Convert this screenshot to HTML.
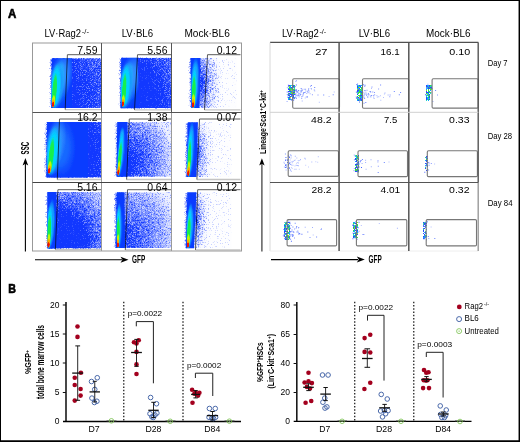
<!DOCTYPE html><html><head><meta charset="utf-8"><title>Figure</title><style>html,body{margin:0;padding:0;background:#fff;width:520px;height:442px;overflow:hidden}svg{display:block;will-change:transform}text{font-family:"Liberation Sans",sans-serif}</style></head><body><svg xmlns="http://www.w3.org/2000/svg" width="520" height="442" viewBox="0 0 520 442" font-family="Liberation Sans, sans-serif"><rect x="0" y="0" width="520" height="442" fill="#fff"/><defs><radialGradient id="hg0"><stop offset="0" stop-color="#0a5aff"/><stop offset="0.68" stop-color="#0a5aff" stop-opacity="0.95"/><stop offset="1" stop-color="#0a5aff" stop-opacity="0"/></radialGradient><radialGradient id="hg1"><stop offset="0" stop-color="#1a98ff"/><stop offset="0.68" stop-color="#1a98ff" stop-opacity="0.95"/><stop offset="1" stop-color="#1a98ff" stop-opacity="0"/></radialGradient><radialGradient id="hg2"><stop offset="0" stop-color="#00d4ff"/><stop offset="0.68" stop-color="#00d4ff" stop-opacity="0.95"/><stop offset="1" stop-color="#00d4ff" stop-opacity="0"/></radialGradient><radialGradient id="hg3"><stop offset="0" stop-color="#18f048"/><stop offset="0.68" stop-color="#18f048" stop-opacity="0.95"/><stop offset="1" stop-color="#18f048" stop-opacity="0"/></radialGradient><radialGradient id="hg4"><stop offset="0" stop-color="#c8f800"/><stop offset="0.68" stop-color="#c8f800" stop-opacity="0.95"/><stop offset="1" stop-color="#c8f800" stop-opacity="0"/></radialGradient><radialGradient id="hg5"><stop offset="0" stop-color="#ffa000"/><stop offset="0.68" stop-color="#ffa000" stop-opacity="0.95"/><stop offset="1" stop-color="#ffa000" stop-opacity="0"/></radialGradient><radialGradient id="hg6"><stop offset="0" stop-color="#f01000"/><stop offset="0.68" stop-color="#f01000" stop-opacity="0.95"/><stop offset="1" stop-color="#f01000" stop-opacity="0"/></radialGradient><radialGradient id="hla"><stop offset="0" stop-color="#3496ff"/><stop offset="0.45" stop-color="#3496ff" stop-opacity="0.85"/><stop offset="1" stop-color="#3496ff" stop-opacity="0"/></radialGradient><radialGradient id="hlb"><stop offset="0" stop-color="#10c4ff"/><stop offset="0.45" stop-color="#10c4ff" stop-opacity="0.85"/><stop offset="1" stop-color="#10c4ff" stop-opacity="0"/></radialGradient><radialGradient id="hlc"><stop offset="0" stop-color="#1a6cff"/><stop offset="0.45" stop-color="#1a6cff" stop-opacity="0.85"/><stop offset="1" stop-color="#1a6cff" stop-opacity="0"/></radialGradient></defs><defs><filter id="blur1" x="-50%" y="-50%" width="200%" height="200%"><feGaussianBlur stdDeviation="0.65"/></filter><filter id="blur05" x="-50%" y="-50%" width="200%" height="200%"><feGaussianBlur stdDeviation="0.5"/></filter><filter id="spk" color-interpolation-filters="sRGB"><feTurbulence type="fractalNoise" baseFrequency="1.5" numOctaves="2" seed="11" result="t"/><feColorMatrix in="t" type="matrix" values="0 0 0 0 0  0 0 0 0 0  0 0 0 0 0  2 0 0 0 -0.5" result="na"/><feComposite in="SourceAlpha" in2="na" operator="arithmetic" k1="0" k2="2" k3="1" k4="-1" result="m"/><feFlood flood-color="#1238ff"/><feComposite in2="m" operator="in"/></filter></defs><text x="7.9" y="18.0" font-size="12.6" textLength="8.3" lengthAdjust="spacingAndGlyphs" font-weight="bold" fill="#000" stroke="#000" stroke-width="0.6">A</text><text x="44.4" y="36.9" font-size="10" textLength="36.6" lengthAdjust="spacingAndGlyphs">LV·Rag2</text><text x="81.8" y="34.0" font-size="6.6" textLength="7.2" lengthAdjust="spacingAndGlyphs">-/-</text><text x="121.7" y="36.9" font-size="10" textLength="31.4" lengthAdjust="spacingAndGlyphs">LV·BL6</text><text x="184.4" y="36.9" font-size="10" textLength="45.4" lengthAdjust="spacingAndGlyphs">Mock·BL6</text><text x="281.9" y="36.9" font-size="10" textLength="36.9" lengthAdjust="spacingAndGlyphs">LV·Rag2</text><text x="319.4" y="34.0" font-size="6.6" textLength="6.9" lengthAdjust="spacingAndGlyphs">-/-</text><text x="358.7" y="36.9" font-size="10" textLength="31.4" lengthAdjust="spacingAndGlyphs">LV·BL6</text><text x="426.0" y="36.9" font-size="10" textLength="44.6" lengthAdjust="spacingAndGlyphs">Mock·BL6</text><defs><radialGradient id="rg1" gradientUnits="userSpaceOnUse" cx="0" cy="0" r="1" gradientTransform="translate(54.0 101) scale(62 75)"><stop offset="0" stop-color="#000" stop-opacity="0.973"/><stop offset="0.5" stop-color="#000" stop-opacity="0.795"/><stop offset="0.75" stop-color="#000" stop-opacity="0.667"/><stop offset="1" stop-color="#000" stop-opacity="0.563"/></radialGradient><clipPath id="cp1"><rect x="32.0" y="43" width="69.5" height="69.5"/></clipPath></defs><defs><radialGradient id="rt1" gradientUnits="userSpaceOnUse" cx="0" cy="0" r="1" gradientTransform="translate(54.0 101) scale(62 75)"><stop offset="0" stop-color="#3a5cff" stop-opacity="0.0"/><stop offset="0.5" stop-color="#3a5cff" stop-opacity="0.057"/><stop offset="0.75" stop-color="#3a5cff" stop-opacity="0.192"/><stop offset="1" stop-color="#3a5cff" stop-opacity="0.283"/></radialGradient></defs><g clip-path="url(#cp1)"><polygon points="52.1,58.2 102.0,58.2 102.0,108.1 51.5,108.1" fill="url(#rt1)"/><g filter="url(#spk)"><polygon points="52.1,58.2 102.0,58.2 102.0,108.1 51.5,108.1" fill="url(#rg1)"/></g></g><defs><linearGradient id="fg1" gradientUnits="userSpaceOnUse" x1="48.2" y1="0" x2="51.7" y2="0"><stop offset="0" stop-opacity="0"/><stop offset="1" stop-opacity="0.525"/></linearGradient></defs><g filter="url(#spk)"><polygon points="48.8,59.2 52.3,58.2 51.7,108.1 48.2,107.1" fill="url(#fg1)"/></g><defs><clipPath id="sc1"><polygon points="51.8,58.2 72.0,58.2 72.0,108.1 51.2,108.1"/></clipPath></defs><polygon points="51.8,58.2 72.0,58.2 72.0,108.1 51.2,108.1" fill="#0a3cff"/><g clip-path="url(#sc1)"><g filter="url(#blur1)"><ellipse cx="0" cy="0" rx="11.60" ry="24.14" fill="url(#hg0)" transform="translate(58.06 85.50) rotate(4.2)"/><ellipse cx="0" cy="0" rx="12" ry="26" fill="url(#hla)" transform="translate(61.00 77.00) rotate(14)"/><ellipse cx="0" cy="0" rx="6.5" ry="24" fill="url(#hlb)" transform="translate(58.00 83.00) rotate(8)"/><ellipse cx="0" cy="0" rx="7.54" ry="23.68" fill="url(#hg1)" transform="translate(56.61 85.91) rotate(4.2)"/><ellipse cx="0" cy="0" rx="5.45" ry="22.99" fill="url(#hg2)" transform="translate(55.83 86.53) rotate(4.2)"/><ellipse cx="0" cy="0" rx="2.55" ry="18.39" fill="url(#hg3)" transform="translate(54.52 90.62) rotate(4.2)"/><ellipse cx="0" cy="0" rx="1.86" ry="6.65" fill="url(#hg4)" transform="translate(53.51 101.08) rotate(4.2)"/><ellipse cx="0" cy="0" rx="1.51" ry="4.34" fill="url(#hg5)" transform="translate(53.24 103.13) rotate(4.2)"/><ellipse cx="0" cy="0" rx="1.28" ry="2.96" fill="url(#hg6)" transform="translate(53.07 104.36) rotate(4.2)"/></g></g><defs><radialGradient id="rg2" gradientUnits="userSpaceOnUse" cx="0" cy="0" r="1" gradientTransform="translate(123.5 103) scale(58 70)"><stop offset="0" stop-color="#000" stop-opacity="0.973"/><stop offset="0.6" stop-color="#000" stop-opacity="0.874"/><stop offset="0.8" stop-color="#000" stop-opacity="0.697"/><stop offset="1" stop-color="#000" stop-opacity="0.579"/></radialGradient><clipPath id="cp2"><rect x="101.5" y="43" width="69.5" height="69.5"/></clipPath></defs><defs><radialGradient id="rt2" gradientUnits="userSpaceOnUse" cx="0" cy="0" r="1" gradientTransform="translate(123.5 103) scale(58 70)"><stop offset="0" stop-color="#3a5cff" stop-opacity="0.0"/><stop offset="0.6" stop-color="#3a5cff" stop-opacity="0.024"/><stop offset="0.8" stop-color="#3a5cff" stop-opacity="0.153"/><stop offset="1" stop-color="#3a5cff" stop-opacity="0.273"/></radialGradient></defs><g clip-path="url(#cp2)"><polygon points="121.5,57.7 171.5,57.7 171.5,108.2 120.8,108.2" fill="url(#rt2)"/><g filter="url(#spk)"><polygon points="121.5,57.7 171.5,57.7 171.5,108.2 120.8,108.2" fill="url(#rg2)"/></g></g><defs><linearGradient id="fg2" gradientUnits="userSpaceOnUse" x1="117.5" y1="0" x2="121.0" y2="0"><stop offset="0" stop-opacity="0"/><stop offset="1" stop-opacity="0.525"/></linearGradient></defs><g filter="url(#spk)"><polygon points="118.2,58.7 121.7,57.7 121.0,108.2 117.5,107.2" fill="url(#fg2)"/></g><defs><clipPath id="sc2"><polygon points="121.2,57.7 137.5,57.7 139.5,108.2 120.5,108.2"/></clipPath></defs><polygon points="121.2,57.7 137.5,57.7 139.5,108.2 120.5,108.2" fill="#0a3cff"/><g clip-path="url(#sc2)"><g filter="url(#blur1)"><ellipse cx="0" cy="0" rx="10.88" ry="23.85" fill="url(#hg0)" transform="translate(127.46 85.25) rotate(3.8)"/><ellipse cx="0" cy="0" rx="11.5" ry="26" fill="url(#hla)" transform="translate(130.50 78.00) rotate(14)"/><ellipse cx="0" cy="0" rx="6" ry="23" fill="url(#hlb)" transform="translate(127.00 83.00) rotate(8)"/><ellipse cx="0" cy="0" rx="7.07" ry="23.40" fill="url(#hg1)" transform="translate(126.10 85.66) rotate(3.8)"/><ellipse cx="0" cy="0" rx="5.11" ry="22.71" fill="url(#hg2)" transform="translate(125.37 86.26) rotate(3.8)"/><ellipse cx="0" cy="0" rx="2.39" ry="18.17" fill="url(#hg3)" transform="translate(124.15 90.31) rotate(3.8)"/><ellipse cx="0" cy="0" rx="1.74" ry="6.58" fill="url(#hg4)" transform="translate(123.23 100.64) rotate(3.8)"/><ellipse cx="0" cy="0" rx="1.41" ry="4.30" fill="url(#hg5)" transform="translate(122.98 102.66) rotate(3.8)"/><ellipse cx="0" cy="0" rx="1.20" ry="2.94" fill="url(#hg6)" transform="translate(122.83 103.88) rotate(3.8)"/></g></g><defs><radialGradient id="rg3" gradientUnits="userSpaceOnUse" cx="0" cy="0" r="1" gradientTransform="translate(200.5 83) scale(22 55)"><stop offset="0" stop-color="#000" stop-opacity="0.795"/><stop offset="0.15" stop-color="#000" stop-opacity="0.667"/><stop offset="0.3" stop-color="#000" stop-opacity="0.498"/><stop offset="0.5" stop-color="#000" stop-opacity="0.363"/><stop offset="0.75" stop-color="#000" stop-opacity="0.254"/><stop offset="1" stop-color="#000" stop-opacity="0.125"/></radialGradient><clipPath id="cp3"><rect x="171.5" y="43" width="69.5" height="69.5"/></clipPath></defs><defs><radialGradient id="rt3" gradientUnits="userSpaceOnUse" cx="0" cy="0" r="1" gradientTransform="translate(200.5 83) scale(22 55)"><stop offset="0" stop-color="#3a5cff" stop-opacity="0.023"/><stop offset="0.15" stop-color="#3a5cff" stop-opacity="0.077"/><stop offset="0.3" stop-color="#3a5cff" stop-opacity="0.12"/><stop offset="0.5" stop-color="#3a5cff" stop-opacity="0.09"/><stop offset="0.75" stop-color="#3a5cff" stop-opacity="0.043"/><stop offset="1" stop-color="#3a5cff" stop-opacity="0.009"/></radialGradient></defs><g clip-path="url(#cp3)"><polygon points="190.9,58.1 236.5,58.1 236.5,108.1 191.5,108.1" fill="url(#rt3)"/><g filter="url(#spk)"><polygon points="190.9,58.1 236.5,58.1 236.5,108.1 191.5,108.1" fill="url(#rg3)"/></g></g><defs><linearGradient id="fg3" gradientUnits="userSpaceOnUse" x1="187.6" y1="0" x2="191.1" y2="0"><stop offset="0" stop-opacity="0"/><stop offset="1" stop-opacity="0.525"/></linearGradient></defs><g filter="url(#spk)"><polygon points="187.6,59.1 191.1,58.1 191.7,108.1 188.2,107.1" fill="url(#fg3)"/></g><defs><clipPath id="sc3"><polygon points="190.6,58.1 200.6,58.1 199.5,108.1 191.2,108.1"/></clipPath></defs><polygon points="190.6,58.1 200.6,58.1 199.5,108.1 191.2,108.1" fill="#0a3cff"/><g clip-path="url(#sc3)"><g filter="url(#blur05)"><ellipse cx="0" cy="0" rx="5.22" ry="24.37" fill="url(#hg0)" transform="translate(195.03 85.75) rotate(1.9)"/><ellipse cx="0" cy="0" rx="4" ry="18" fill="url(#hlb)" transform="translate(195.00 75.00) rotate(3)"/><ellipse cx="0" cy="0" rx="3.92" ry="23.68" fill="url(#hg1)" transform="translate(194.55 86.37) rotate(1.9)"/><ellipse cx="0" cy="0" rx="2.87" ry="22.05" fill="url(#hg2)" transform="translate(194.13 87.83) rotate(1.9)"/><ellipse cx="0" cy="0" rx="2.19" ry="17.40" fill="url(#hg3)" transform="translate(193.76 91.97) rotate(1.9)"/><ellipse cx="0" cy="0" rx="1.88" ry="7.63" fill="url(#hg4)" transform="translate(193.35 100.69) rotate(1.9)"/><ellipse cx="0" cy="0" rx="1.67" ry="4.84" fill="url(#hg5)" transform="translate(193.20 103.18) rotate(1.9)"/><ellipse cx="0" cy="0" rx="1.46" ry="2.98" fill="url(#hg6)" transform="translate(193.07 104.84) rotate(1.9)"/></g></g><defs><radialGradient id="rg4" gradientUnits="userSpaceOnUse" cx="0" cy="0" r="1" gradientTransform="translate(50.0 157.5) scale(70 75)"><stop offset="0" stop-color="#000" stop-opacity="0.973"/><stop offset="0.6" stop-color="#000" stop-opacity="0.874"/><stop offset="0.85" stop-color="#000" stop-opacity="0.697"/><stop offset="1" stop-color="#000" stop-opacity="0.618"/></radialGradient><clipPath id="cp4"><rect x="32.0" y="112.5" width="69.5" height="69.5"/></clipPath></defs><defs><radialGradient id="rt4" gradientUnits="userSpaceOnUse" cx="0" cy="0" r="1" gradientTransform="translate(50.0 157.5) scale(70 75)"><stop offset="0" stop-color="#3a5cff" stop-opacity="0.0"/><stop offset="0.6" stop-color="#3a5cff" stop-opacity="0.024"/><stop offset="0.85" stop-color="#3a5cff" stop-opacity="0.153"/><stop offset="1" stop-color="#3a5cff" stop-opacity="0.242"/></radialGradient></defs><g clip-path="url(#cp4)"><polygon points="47.4,122.0 102.0,122.0 102.0,177.4 46.6,177.4" fill="url(#rt4)"/><g filter="url(#spk)"><polygon points="47.4,122.0 102.0,122.0 102.0,177.4 46.6,177.4" fill="url(#rg4)"/></g></g><defs><linearGradient id="fg4" gradientUnits="userSpaceOnUse" x1="43.3" y1="0" x2="46.8" y2="0"><stop offset="0" stop-opacity="0"/><stop offset="1" stop-opacity="0.525"/></linearGradient></defs><g filter="url(#spk)"><polygon points="44.1,123.0 47.6,122.0 46.8,177.4 43.3,176.4" fill="url(#fg4)"/></g><defs><clipPath id="sc4"><polygon points="47.1,122.0 88.0,122.0 88.0,177.4 46.3,177.4"/></clipPath></defs><polygon points="47.1,122.0 88.0,122.0 88.0,177.4 46.3,177.4" fill="#0a3cff"/><g clip-path="url(#sc4)"><g filter="url(#blur1)"><ellipse cx="0" cy="0" rx="13.05" ry="25.89" fill="url(#hg0)" transform="translate(55.32 150.50) rotate(5.8)"/><ellipse cx="0" cy="0" rx="14" ry="30" fill="url(#hlc)" transform="translate(62.00 147.50) rotate(0)"/><ellipse cx="0" cy="0" rx="10" ry="26" fill="url(#hla)" transform="translate(56.00 142.50) rotate(8)"/><ellipse cx="0" cy="0" rx="6" ry="24" fill="url(#hlb)" transform="translate(52.50 148.50) rotate(5)"/><ellipse cx="0" cy="0" rx="8.48" ry="25.39" fill="url(#hg1)" transform="translate(53.67 150.94) rotate(5.8)"/><ellipse cx="0" cy="0" rx="6.13" ry="24.65" fill="url(#hg2)" transform="translate(52.78 151.60) rotate(5.8)"/><ellipse cx="0" cy="0" rx="2.87" ry="19.70" fill="url(#hg3)" transform="translate(51.19 156.00) rotate(5.8)"/><ellipse cx="0" cy="0" rx="2.09" ry="7.06" fill="url(#hg4)" transform="translate(49.77 167.22) rotate(5.8)"/><ellipse cx="0" cy="0" rx="1.70" ry="4.59" fill="url(#hg5)" transform="translate(49.41 169.42) rotate(5.8)"/><ellipse cx="0" cy="0" rx="1.44" ry="3.10" fill="url(#hg6)" transform="translate(49.18 170.74) rotate(5.8)"/></g></g><defs><radialGradient id="rg5" gradientUnits="userSpaceOnUse" cx="0" cy="0" r="1" gradientTransform="translate(126.5 162.5) scale(48 58)"><stop offset="0" stop-color="#000" stop-opacity="0.973"/><stop offset="0.2" stop-color="#000" stop-opacity="0.745"/><stop offset="0.45" stop-color="#000" stop-opacity="0.579"/><stop offset="0.7" stop-color="#000" stop-opacity="0.42"/><stop offset="0.9" stop-color="#000" stop-opacity="0.302"/><stop offset="1" stop-color="#000" stop-opacity="0.233"/></radialGradient><clipPath id="cp5"><rect x="101.5" y="112.5" width="69.5" height="69.5"/></clipPath></defs><defs><radialGradient id="rt5" gradientUnits="userSpaceOnUse" cx="0" cy="0" r="1" gradientTransform="translate(126.5 162.5) scale(48 58)"><stop offset="0" stop-color="#3a5cff" stop-opacity="0.0"/><stop offset="0.2" stop-color="#3a5cff" stop-opacity="0.108"/><stop offset="0.45" stop-color="#3a5cff" stop-opacity="0.273"/><stop offset="0.7" stop-color="#3a5cff" stop-opacity="0.273"/><stop offset="0.9" stop-color="#3a5cff" stop-opacity="0.153"/><stop offset="1" stop-color="#3a5cff" stop-opacity="0.088"/></radialGradient></defs><g clip-path="url(#cp5)"><polygon points="117.5,122.0 171.5,122.0 171.5,176.7 116.8,176.7" fill="url(#rt5)"/><g filter="url(#spk)"><polygon points="117.5,122.0 171.5,122.0 171.5,176.7 116.8,176.7" fill="url(#rg5)"/></g></g><defs><linearGradient id="fg5" gradientUnits="userSpaceOnUse" x1="113.5" y1="0" x2="117.0" y2="0"><stop offset="0" stop-opacity="0"/><stop offset="1" stop-opacity="0.525"/></linearGradient></defs><g filter="url(#spk)"><polygon points="114.2,123.0 117.7,122.0 117.0,176.7 113.5,175.7" fill="url(#fg5)"/></g><defs><clipPath id="sc5"><polygon points="117.2,122.0 127.4,122.0 127.4,176.7 116.5,176.7"/></clipPath></defs><polygon points="117.2,122.0 127.4,122.0 127.4,176.7 116.5,176.7" fill="#0a3cff"/><g clip-path="url(#sc5)"><g filter="url(#blur05)"><ellipse cx="0" cy="0" rx="4.35" ry="25.57" fill="url(#hg0)" transform="translate(121.17 152.25) rotate(4.9)"/><ellipse cx="0" cy="0" rx="2.8" ry="11" fill="url(#hlb)" transform="translate(121.80 137.50) rotate(4)"/><ellipse cx="0" cy="0" rx="3.26" ry="24.83" fill="url(#hg1)" transform="translate(120.74 152.90) rotate(4.9)"/><ellipse cx="0" cy="0" rx="2.39" ry="23.12" fill="url(#hg2)" transform="translate(120.30 154.43) rotate(4.9)"/><ellipse cx="0" cy="0" rx="1.83" ry="18.23" fill="url(#hg3)" transform="translate(119.73 158.78) rotate(4.9)"/><ellipse cx="0" cy="0" rx="1.57" ry="7.97" fill="url(#hg4)" transform="translate(118.87 167.91) rotate(4.9)"/><ellipse cx="0" cy="0" rx="1.39" ry="5.03" fill="url(#hg5)" transform="translate(118.58 170.52) rotate(4.9)"/><ellipse cx="0" cy="0" rx="1.22" ry="3.08" fill="url(#hg6)" transform="translate(118.37 172.26) rotate(4.9)"/></g></g><defs><radialGradient id="rg6" gradientUnits="userSpaceOnUse" cx="0" cy="0" r="1" gradientTransform="translate(196.5 152.5) scale(18 52)"><stop offset="0" stop-color="#000" stop-opacity="0.745"/><stop offset="0.15" stop-color="#000" stop-opacity="0.552"/><stop offset="0.35" stop-color="#000" stop-opacity="0.393"/><stop offset="0.6" stop-color="#000" stop-opacity="0.274"/><stop offset="1" stop-color="#000" stop-opacity="0.125"/></radialGradient><clipPath id="cp6"><rect x="171.5" y="112.5" width="69.5" height="69.5"/></clipPath></defs><defs><radialGradient id="rt6" gradientUnits="userSpaceOnUse" cx="0" cy="0" r="1" gradientTransform="translate(196.5 152.5) scale(18 52)"><stop offset="0" stop-color="#3a5cff" stop-opacity="0.043"/><stop offset="0.15" stop-color="#3a5cff" stop-opacity="0.115"/><stop offset="0.35" stop-color="#3a5cff" stop-opacity="0.101"/><stop offset="0.6" stop-color="#3a5cff" stop-opacity="0.051"/><stop offset="1" stop-color="#3a5cff" stop-opacity="0.009"/></radialGradient></defs><g clip-path="url(#cp6)"><polygon points="188.1,122.3 231.5,122.3 231.5,177.1 186.8,177.1" fill="url(#rt6)"/><g filter="url(#spk)"><polygon points="188.1,122.3 231.5,122.3 231.5,177.1 186.8,177.1" fill="url(#rg6)"/></g></g><defs><linearGradient id="fg6" gradientUnits="userSpaceOnUse" x1="183.5" y1="0" x2="187.0" y2="0"><stop offset="0" stop-opacity="0"/><stop offset="1" stop-opacity="0.525"/></linearGradient></defs><g filter="url(#spk)"><polygon points="184.8,123.3 188.3,122.3 187.0,177.1 183.5,176.1" fill="url(#fg6)"/></g><defs><clipPath id="sc6"><polygon points="187.8,122.3 197.9,122.3 196.4,177.1 186.5,177.1"/></clipPath></defs><polygon points="187.8,122.3 197.9,122.3 196.4,177.1 186.5,177.1" fill="#0a3cff"/><g clip-path="url(#sc6)"><g filter="url(#blur05)"><ellipse cx="0" cy="0" rx="4.64" ry="27.20" fill="url(#hg0)" transform="translate(190.67 151.75) rotate(3.1)"/><ellipse cx="0" cy="0" rx="3.2" ry="22" fill="url(#hlb)" transform="translate(191.00 142.50) rotate(3)"/><ellipse cx="0" cy="0" rx="3.48" ry="26.42" fill="url(#hg1)" transform="translate(190.23 152.45) rotate(3.1)"/><ellipse cx="0" cy="0" rx="2.55" ry="24.59" fill="url(#hg2)" transform="translate(189.82 154.07) rotate(3.1)"/><ellipse cx="0" cy="0" rx="1.95" ry="19.37" fill="url(#hg3)" transform="translate(189.36 158.72) rotate(3.1)"/><ellipse cx="0" cy="0" rx="1.67" ry="8.42" fill="url(#hg4)" transform="translate(188.73 168.49) rotate(3.1)"/><ellipse cx="0" cy="0" rx="1.48" ry="5.29" fill="url(#hg5)" transform="translate(188.52 171.28) rotate(3.1)"/><ellipse cx="0" cy="0" rx="1.30" ry="3.21" fill="url(#hg6)" transform="translate(188.35 173.14) rotate(3.1)"/></g></g><defs><radialGradient id="rg7" gradientUnits="userSpaceOnUse" cx="0" cy="0" r="1" gradientTransform="translate(58.0 244) scale(58 66)"><stop offset="0" stop-color="#000" stop-opacity="0.973"/><stop offset="0.45" stop-color="#000" stop-opacity="0.874"/><stop offset="0.65" stop-color="#000" stop-opacity="0.618"/><stop offset="0.85" stop-color="#000" stop-opacity="0.446"/><stop offset="1" stop-color="#000" stop-opacity="0.345"/></radialGradient><clipPath id="cp7"><rect x="32.0" y="182" width="69.5" height="69.5"/></clipPath></defs><defs><radialGradient id="rt7" gradientUnits="userSpaceOnUse" cx="0" cy="0" r="1" gradientTransform="translate(58.0 244) scale(58 66)"><stop offset="0" stop-color="#3a5cff" stop-opacity="0.0"/><stop offset="0.45" stop-color="#3a5cff" stop-opacity="0.024"/><stop offset="0.65" stop-color="#3a5cff" stop-opacity="0.242"/><stop offset="0.85" stop-color="#3a5cff" stop-opacity="0.288"/><stop offset="1" stop-color="#3a5cff" stop-opacity="0.206"/></radialGradient></defs><g clip-path="url(#cp7)"><polygon points="47.6,192.0 102.0,192.0 102.0,248.6 47.6,248.6" fill="url(#rt7)"/><g filter="url(#spk)"><polygon points="47.6,192.0 102.0,192.0 102.0,248.6 47.6,248.6" fill="url(#rg7)"/></g></g><defs><linearGradient id="fg7" gradientUnits="userSpaceOnUse" x1="44.3" y1="0" x2="47.8" y2="0"><stop offset="0" stop-opacity="0"/><stop offset="1" stop-opacity="0.525"/></linearGradient></defs><g filter="url(#spk)"><polygon points="44.3,193.0 47.8,192.0 47.8,248.6 44.3,247.6" fill="url(#fg7)"/></g><defs><clipPath id="sc7"><polygon points="47.3,192.0 56.4,192.0 56.4,248.6 47.3,248.6"/></clipPath></defs><polygon points="47.3,192.0 56.4,192.0 56.4,248.6 47.3,248.6" fill="#0a3cff"/><g clip-path="url(#sc7)"><g filter="url(#blur05)"><ellipse cx="0" cy="0" rx="5.22" ry="24.94" fill="url(#hg0)" transform="translate(50.53 225.25) rotate(2.2)"/><ellipse cx="0" cy="0" rx="3.5" ry="24" fill="url(#hlb)" transform="translate(51.50 222.00) rotate(2)"/><ellipse cx="0" cy="0" rx="3.92" ry="24.22" fill="url(#hg1)" transform="translate(50.05 225.89) rotate(2.2)"/><ellipse cx="0" cy="0" rx="2.87" ry="22.56" fill="url(#hg2)" transform="translate(49.62 227.38) rotate(2.2)"/><ellipse cx="0" cy="0" rx="2.19" ry="17.79" fill="url(#hg3)" transform="translate(49.23 231.62) rotate(2.2)"/><ellipse cx="0" cy="0" rx="1.88" ry="7.79" fill="url(#hg4)" transform="translate(48.78 240.55) rotate(2.2)"/><ellipse cx="0" cy="0" rx="1.67" ry="4.93" fill="url(#hg5)" transform="translate(48.61 243.10) rotate(2.2)"/><ellipse cx="0" cy="0" rx="1.46" ry="3.03" fill="url(#hg6)" transform="translate(48.48 244.80) rotate(2.2)"/></g></g><defs><radialGradient id="rg8" gradientUnits="userSpaceOnUse" cx="0" cy="0" r="1" gradientTransform="translate(123.5 238) scale(55 65)"><stop offset="0" stop-color="#000" stop-opacity="0.795"/><stop offset="0.2" stop-color="#000" stop-opacity="0.667"/><stop offset="0.45" stop-color="#000" stop-opacity="0.498"/><stop offset="0.75" stop-color="#000" stop-opacity="0.363"/><stop offset="1" stop-color="#000" stop-opacity="0.233"/></radialGradient><clipPath id="cp8"><rect x="101.5" y="182" width="69.5" height="69.5"/></clipPath></defs><defs><radialGradient id="rt8" gradientUnits="userSpaceOnUse" cx="0" cy="0" r="1" gradientTransform="translate(123.5 238) scale(55 65)"><stop offset="0" stop-color="#3a5cff" stop-opacity="0.057"/><stop offset="0.2" stop-color="#3a5cff" stop-opacity="0.192"/><stop offset="0.45" stop-color="#3a5cff" stop-opacity="0.3"/><stop offset="0.75" stop-color="#3a5cff" stop-opacity="0.225"/><stop offset="1" stop-color="#3a5cff" stop-opacity="0.088"/></radialGradient></defs><g clip-path="url(#cp8)"><polygon points="117.1,192.3 171.5,192.3 171.5,247.9 115.8,247.9" fill="url(#rt8)"/><g filter="url(#spk)"><polygon points="117.1,192.3 171.5,192.3 171.5,247.9 115.8,247.9" fill="url(#rg8)"/></g></g><defs><linearGradient id="fg8" gradientUnits="userSpaceOnUse" x1="112.5" y1="0" x2="116.0" y2="0"><stop offset="0" stop-opacity="0"/><stop offset="1" stop-opacity="0.525"/></linearGradient></defs><g filter="url(#spk)"><polygon points="113.8,193.3 117.3,192.3 116.0,247.9 112.5,246.9" fill="url(#fg8)"/></g><defs><clipPath id="sc8"><polygon points="116.8,192.3 124.5,192.3 124.9,247.9 115.5,247.9"/></clipPath></defs><polygon points="116.8,192.3 124.5,192.3 124.9,247.9 115.5,247.9" fill="#0a3cff"/><g clip-path="url(#sc8)"><g filter="url(#blur05)"><ellipse cx="0" cy="0" rx="4.06" ry="23.80" fill="url(#hg0)" transform="translate(119.17 226.25) rotate(0.7)"/><ellipse cx="0" cy="0" rx="2.5" ry="22" fill="url(#hlb)" transform="translate(119.00 224.00) rotate(1)"/><ellipse cx="0" cy="0" rx="3.04" ry="23.12" fill="url(#hg1)" transform="translate(118.81 226.86) rotate(0.7)"/><ellipse cx="0" cy="0" rx="2.23" ry="21.53" fill="url(#hg2)" transform="translate(118.51 228.28) rotate(0.7)"/><ellipse cx="0" cy="0" rx="1.71" ry="17.00" fill="url(#hg3)" transform="translate(118.27 232.32) rotate(0.7)"/><ellipse cx="0" cy="0" rx="1.46" ry="7.47" fill="url(#hg4)" transform="translate(118.08 240.83) rotate(0.7)"/><ellipse cx="0" cy="0" rx="1.30" ry="4.75" fill="url(#hg5)" transform="translate(117.99 243.26) rotate(0.7)"/><ellipse cx="0" cy="0" rx="1.14" ry="2.93" fill="url(#hg6)" transform="translate(117.92 244.88) rotate(0.7)"/></g></g><defs><radialGradient id="rg9" gradientUnits="userSpaceOnUse" cx="0" cy="0" r="1" gradientTransform="translate(195.5 218) scale(17 52)"><stop offset="0" stop-color="#000" stop-opacity="0.697"/><stop offset="0.15" stop-color="#000" stop-opacity="0.525"/><stop offset="0.35" stop-color="#000" stop-opacity="0.381"/><stop offset="0.6" stop-color="#000" stop-opacity="0.254"/><stop offset="1" stop-color="#000" stop-opacity="0.125"/></radialGradient><clipPath id="cp9"><rect x="171.5" y="182" width="69.5" height="69.5"/></clipPath></defs><defs><radialGradient id="rt9" gradientUnits="userSpaceOnUse" cx="0" cy="0" r="1" gradientTransform="translate(195.5 218) scale(17 52)"><stop offset="0" stop-color="#3a5cff" stop-opacity="0.061"/><stop offset="0.15" stop-color="#3a5cff" stop-opacity="0.119"/><stop offset="0.35" stop-color="#3a5cff" stop-opacity="0.097"/><stop offset="0.6" stop-color="#3a5cff" stop-opacity="0.043"/><stop offset="1" stop-color="#3a5cff" stop-opacity="0.009"/></radialGradient></defs><g clip-path="url(#cp9)"><polygon points="187.6,192.3 231.5,192.3 231.5,248.3 186.1,248.3" fill="url(#rt9)"/><g filter="url(#spk)"><polygon points="187.6,192.3 231.5,192.3 231.5,248.3 186.1,248.3" fill="url(#rg9)"/></g></g><defs><linearGradient id="fg9" gradientUnits="userSpaceOnUse" x1="182.8" y1="0" x2="186.3" y2="0"><stop offset="0" stop-opacity="0"/><stop offset="1" stop-opacity="0.525"/></linearGradient></defs><g filter="url(#spk)"><polygon points="184.3,193.3 187.8,192.3 186.3,248.3 182.8,247.3" fill="url(#fg9)"/></g><defs><clipPath id="sc9"><polygon points="187.3,192.3 196.4,192.3 194.0,248.3 185.8,248.3"/></clipPath></defs><polygon points="187.3,192.3 196.4,192.3 194.0,248.3 185.8,248.3" fill="#0a3cff"/><g clip-path="url(#sc9)"><g filter="url(#blur05)"><ellipse cx="0" cy="0" rx="4.64" ry="23.83" fill="url(#hg0)" transform="translate(190.07 226.25) rotate(3.0)"/><ellipse cx="0" cy="0" rx="3" ry="22" fill="url(#hlb)" transform="translate(190.30 224.00) rotate(1)"/><ellipse cx="0" cy="0" rx="3.48" ry="23.15" fill="url(#hg1)" transform="translate(189.64 226.86) rotate(3.0)"/><ellipse cx="0" cy="0" rx="2.55" ry="21.56" fill="url(#hg2)" transform="translate(189.24 228.28) rotate(3.0)"/><ellipse cx="0" cy="0" rx="1.95" ry="17.02" fill="url(#hg3)" transform="translate(188.82 232.32) rotate(3.0)"/><ellipse cx="0" cy="0" rx="1.67" ry="7.48" fill="url(#hg4)" transform="translate(188.28 240.83) rotate(3.0)"/><ellipse cx="0" cy="0" rx="1.48" ry="4.75" fill="url(#hg5)" transform="translate(188.09 243.26) rotate(3.0)"/><ellipse cx="0" cy="0" rx="1.30" ry="2.94" fill="url(#hg6)" transform="translate(187.94 244.88) rotate(3.0)"/></g></g><path d="M65.2 109.6H101.0" fill="none" stroke="#c4c4c4" stroke-width="1.4"/><path d="M101.0 54.7H67.4L65.2 109.6" fill="none" stroke="#5a5a5a" stroke-width="1" style="mix-blend-mode:multiply"/><path d="M134.5 109.9H171.0" fill="none" stroke="#c4c4c4" stroke-width="1.4"/><path d="M171.0 54.7H137.5L134.5 109.9" fill="none" stroke="#5a5a5a" stroke-width="1" style="mix-blend-mode:multiply"/><path d="M204.5 109.9H240.5" fill="none" stroke="#c4c4c4" stroke-width="1.4"/><path d="M240.5 54.7H207.5L204.5 109.9" fill="none" stroke="#5a5a5a" stroke-width="1" style="mix-blend-mode:multiply"/><path d="M57.3 179.5H101.0" fill="none" stroke="#c4c4c4" stroke-width="1.4"/><path d="M101.0 119.0H59.5L57.3 179.5" fill="none" stroke="#5a5a5a" stroke-width="1" style="mix-blend-mode:multiply"/><path d="M126.6 179.5H171.0" fill="none" stroke="#c4c4c4" stroke-width="1.4"/><path d="M171.0 119.0H129.3L126.6 179.5" fill="none" stroke="#5a5a5a" stroke-width="1" style="mix-blend-mode:multiply"/><path d="M196.9 179.5H240.5" fill="none" stroke="#c4c4c4" stroke-width="1.4"/><path d="M240.5 119.0H199.5L196.9 179.5" fill="none" stroke="#5a5a5a" stroke-width="1" style="mix-blend-mode:multiply"/><path d="M55.4 249.5H101.0" fill="none" stroke="#c4c4c4" stroke-width="1.4"/><path d="M101.0 189.7H57.9L55.4 249.5" fill="none" stroke="#5a5a5a" stroke-width="1" style="mix-blend-mode:multiply"/><path d="M125.3 249.9H171.0" fill="none" stroke="#c4c4c4" stroke-width="1.4"/><path d="M171.0 189.7H127.5L125.3 249.9" fill="none" stroke="#5a5a5a" stroke-width="1" style="mix-blend-mode:multiply"/><path d="M195.5 249.9H240.5" fill="none" stroke="#c4c4c4" stroke-width="1.4"/><path d="M240.5 189.7H197.7L195.5 249.9" fill="none" stroke="#5a5a5a" stroke-width="1" style="mix-blend-mode:multiply"/><rect x="32.5" y="43" width="209" height="208" fill="none" stroke="#999" stroke-width="1"/><line x1="101.5" y1="43" x2="101.5" y2="112.5" stroke="#555" stroke-width="1"/><line x1="101.5" y1="112.5" x2="101.5" y2="251" stroke="#9a9a9a" stroke-width="1"/><line x1="171.5" y1="43" x2="171.5" y2="112.5" stroke="#555" stroke-width="1"/><line x1="171.5" y1="112.5" x2="171.5" y2="251" stroke="#9a9a9a" stroke-width="1"/><line x1="32.5" y1="112.5" x2="241.5" y2="112.5" stroke="#555" stroke-width="1"/><line x1="32.5" y1="182.5" x2="241.5" y2="182.5" stroke="#444" stroke-width="1"/><text x="97.5" y="53.5" font-size="10" text-anchor="end" textLength="20.34" lengthAdjust="spacingAndGlyphs" fill="#000">7.59</text><text x="167.5" y="53.5" font-size="10" text-anchor="end" textLength="20.34" lengthAdjust="spacingAndGlyphs" fill="#000">5.56</text><text x="237.0" y="53.5" font-size="10" text-anchor="end" textLength="20.34" lengthAdjust="spacingAndGlyphs" fill="#000">0.12</text><text x="97.5" y="120.8" font-size="10" text-anchor="end" textLength="20.34" lengthAdjust="spacingAndGlyphs" fill="#000">16.2</text><text x="167.5" y="120.8" font-size="10" text-anchor="end" textLength="20.34" lengthAdjust="spacingAndGlyphs" fill="#000">1.38</text><text x="237.0" y="120.8" font-size="10" text-anchor="end" textLength="20.34" lengthAdjust="spacingAndGlyphs" fill="#000">0.07</text><text x="97.5" y="190.6" font-size="10" text-anchor="end" textLength="20.34" lengthAdjust="spacingAndGlyphs" fill="#000">5.16</text><text x="167.5" y="190.6" font-size="10" text-anchor="end" textLength="20.34" lengthAdjust="spacingAndGlyphs" fill="#000">0.64</text><text x="237.0" y="190.6" font-size="10" text-anchor="end" textLength="20.34" lengthAdjust="spacingAndGlyphs" fill="#000">0.12</text><line x1="25.4" y1="251.5" x2="25.4" y2="162" stroke="#000" stroke-width="1.1"/><path d="M25.4 158 L22.6 165.5 L25.4 163.8 L28.2 165.5 Z" fill="#000"/><text x="29.3" y="154.4" font-size="10.5" textLength="12.5" lengthAdjust="spacingAndGlyphs" font-weight="bold" transform="rotate(-90 29.3 154.4)">SSC</text><line x1="35" y1="259.7" x2="122" y2="259.7" stroke="#000" stroke-width="1.1"/><path d="M128.5 259.7 L120.5 256.7 L122.5 259.7 L120.5 262.7 Z" fill="#000"/><text x="132" y="262.8" font-size="10" textLength="13.2" lengthAdjust="spacingAndGlyphs" font-weight="bold">GFP</text><path d="M288.0 85.0h1.0v1.0h-1.0zM289.0 85.0h1.0v1.0h-1.0zM293.0 85.0h1.0v1.0h-1.0zM288.0 86.0h1.0v1.0h-1.0zM293.0 86.0h1.0v1.0h-1.0zM291.0 87.0h1.0v1.0h-1.0zM292.0 87.0h1.0v1.0h-1.0zM288.0 89.0h1.0v1.0h-1.0zM289.0 89.0h1.0v1.0h-1.0zM294.0 90.0h1.0v1.0h-1.0zM288.0 91.0h1.0v1.0h-1.0zM289.0 91.0h1.0v1.0h-1.0zM290.0 91.0h1.0v1.0h-1.0zM293.0 92.0h1.0v1.0h-1.0zM294.0 92.0h1.0v1.0h-1.0zM289.0 93.0h1.0v1.0h-1.0zM290.0 94.0h1.0v1.0h-1.0zM291.0 94.0h1.0v1.0h-1.0zM292.0 94.0h1.0v1.0h-1.0zM294.0 94.0h1.0v1.0h-1.0zM288.0 95.0h1.0v1.0h-1.0zM289.0 95.0h1.0v1.0h-1.0zM291.0 95.0h1.0v1.0h-1.0zM293.0 95.0h1.0v1.0h-1.0zM290.0 96.0h1.0v1.0h-1.0zM293.0 96.0h1.0v1.0h-1.0zM288.0 97.0h1.0v1.0h-1.0zM289.0 97.0h1.0v1.0h-1.0zM293.0 97.0h1.0v1.0h-1.0zM294.0 98.0h1.0v1.0h-1.0zM289.0 99.0h1.0v1.0h-1.0z" fill="#2a48ff"/><path d="M290.0 85.0h1.0v1.0h-1.0zM290.0 86.0h1.0v1.0h-1.0zM294.0 86.0h1.0v1.0h-1.0zM290.0 87.0h1.0v1.0h-1.0zM288.0 88.0h1.0v1.0h-1.0zM292.0 88.0h1.0v1.0h-1.0zM293.0 90.0h1.0v1.0h-1.0zM291.0 91.0h1.0v1.0h-1.0zM290.0 93.0h1.0v1.0h-1.0zM289.0 94.0h1.0v1.0h-1.0zM293.0 94.0h1.0v1.0h-1.0zM292.0 95.0h1.0v1.0h-1.0zM291.0 96.0h1.0v1.0h-1.0zM292.0 97.0h1.0v1.0h-1.0zM288.0 98.0h1.0v1.0h-1.0zM288.0 99.0h1.0v1.0h-1.0zM290.0 99.0h1.0v1.0h-1.0z" fill="#10a8ff"/><path d="M291.0 85.0h1.0v1.0h-1.0zM292.0 85.0h1.0v1.0h-1.0zM293.0 87.0h1.0v1.0h-1.0zM294.0 88.0h1.0v1.0h-1.0zM293.0 91.0h1.0v1.0h-1.0zM290.0 92.0h1.0v1.0h-1.0zM292.0 93.0h1.0v1.0h-1.0zM289.0 96.0h1.0v1.0h-1.0zM294.0 97.0h1.0v1.0h-1.0z" fill="#20d8c0"/><path d="M294.0 85.0h1.0v1.0h-1.0zM292.0 86.0h1.0v1.0h-1.0zM289.0 87.0h1.0v1.0h-1.0zM294.0 87.0h1.0v1.0h-1.0zM289.0 88.0h1.0v1.0h-1.0zM290.0 88.0h1.0v1.0h-1.0zM291.0 88.0h1.0v1.0h-1.0zM290.0 89.0h1.0v1.0h-1.0zM291.0 89.0h1.0v1.0h-1.0zM292.0 89.0h1.0v1.0h-1.0zM293.0 89.0h1.0v1.0h-1.0zM294.0 89.0h1.0v1.0h-1.0zM289.0 90.0h1.0v1.0h-1.0zM290.0 90.0h1.0v1.0h-1.0zM294.0 91.0h1.0v1.0h-1.0zM291.0 92.0h1.0v1.0h-1.0zM288.0 93.0h1.0v1.0h-1.0zM293.0 93.0h1.0v1.0h-1.0zM288.0 94.0h1.0v1.0h-1.0zM289.0 98.0h1.0v1.0h-1.0z" fill="#38e040"/><path d="M289.0 86.0h1.0v1.0h-1.0zM291.0 93.0h1.0v1.0h-1.0zM294.0 93.0h1.0v1.0h-1.0zM291.0 99.0h1.0v1.0h-1.0zM292.0 99.0h1.0v1.0h-1.0z" fill="#90f020"/><path d="M291.0 90.0h1.0v1.0h-1.0zM290.0 97.0h1.0v1.0h-1.0z" fill="#e8e000"/><path d="M290.3 87.5h1.0v1.0h-1.0zM293.1 99.7h1.0v1.0h-1.0zM290.7 90.7h1.0v1.0h-1.0zM294.1 86.6h1.0v1.0h-1.0zM288.1 93.4h1.0v1.0h-1.0zM287.6 97.0h1.0v1.0h-1.0zM291.1 99.2h1.0v1.0h-1.0zM292.2 98.5h1.0v1.0h-1.0zM286.7 91.4h1.0v1.0h-1.0zM292.9 97.5h1.0v1.0h-1.0zM291.9 93.5h1.0v1.0h-1.0zM295.8 84.5h1.0v1.0h-1.0z" fill="#4a68ff"/><path d="M291.4 89.6h1.0v1.0h-1.0zM287.4 95.4h1.0v1.0h-1.0zM294.7 97.0h1.0v1.0h-1.0zM286.8 94.1h1.0v1.0h-1.0zM296.8 95.3h1.0v1.0h-1.0zM289.0 94.1h1.0v1.0h-1.0zM296.1 89.9h1.0v1.0h-1.0z" fill="#7088ff"/><path d="M291.5 95.3h1.0v1.0h-1.0zM295.8 91.3h1.0v1.0h-1.0zM290.0 97.9h1.0v1.0h-1.0zM295.0 86.1h1.0v1.0h-1.0zM286.6 101.0h1.0v1.0h-1.0zM286.8 87.3h1.0v1.0h-1.0zM293.5 98.2h1.0v1.0h-1.0zM290.9 100.0h1.0v1.0h-1.0zM287.9 86.2h1.0v1.0h-1.0zM288.3 92.0h1.0v1.0h-1.0zM287.8 84.6h1.0v1.0h-1.0z" fill="#98a8ff"/><path d="M298.6 93.1h1.0v1.0h-1.0zM310.7 88.0h1.0v1.0h-1.0zM296.6 90.9h1.0v1.0h-1.0zM302.9 92.9h1.0v1.0h-1.0zM296.3 94.9h1.0v1.0h-1.0zM308.3 91.5h1.0v1.0h-1.0zM298.6 93.2h1.0v1.0h-1.0zM298.4 90.2h1.0v1.0h-1.0zM295.8 91.0h1.0v1.0h-1.0zM305.7 96.6h1.0v1.0h-1.0zM298.5 96.6h1.0v1.0h-1.0zM297.7 93.9h1.0v1.0h-1.0zM298.1 92.8h1.0v1.0h-1.0zM296.7 90.9h1.0v1.0h-1.0zM300.5 90.9h1.0v1.0h-1.0zM296.8 91.6h1.0v1.0h-1.0zM309.6 93.3h1.0v1.0h-1.0zM296.0 97.7h1.0v1.0h-1.0zM302.4 88.7h1.0v1.0h-1.0zM301.7 100.5h1.0v1.0h-1.0zM306.8 96.3h1.0v1.0h-1.0zM311.0 88.5h1.0v1.0h-1.0zM295.1 89.3h1.0v1.0h-1.0zM308.6 91.6h1.0v1.0h-1.0zM305.2 90.4h1.0v1.0h-1.0z" fill="#9fb0ff"/><path d="M301.4 89.1h1.0v1.0h-1.0zM302.8 94.1h1.0v1.0h-1.0zM296.7 91.2h1.0v1.0h-1.0zM318.8 101.7h1.0v1.0h-1.0zM295.4 93.0h1.0v1.0h-1.0zM306.1 93.0h1.0v1.0h-1.0zM303.2 92.6h1.0v1.0h-1.0zM298.3 94.3h1.0v1.0h-1.0zM297.5 91.3h1.0v1.0h-1.0zM298.8 95.5h1.0v1.0h-1.0zM295.2 80.9h1.0v1.0h-1.0zM333.7 91.6h1.0v1.0h-1.0zM299.6 95.0h1.0v1.0h-1.0zM300.7 91.8h1.0v1.0h-1.0zM305.0 92.1h1.0v1.0h-1.0zM302.1 95.6h1.0v1.0h-1.0zM304.7 97.6h1.0v1.0h-1.0zM314.3 90.6h1.0v1.0h-1.0zM304.0 88.8h1.0v1.0h-1.0zM297.9 93.6h1.0v1.0h-1.0zM298.2 92.4h1.0v1.0h-1.0zM302.3 94.2h1.0v1.0h-1.0zM300.4 92.0h1.0v1.0h-1.0zM328.6 95.9h1.0v1.0h-1.0zM308.4 90.2h1.0v1.0h-1.0zM302.6 95.2h1.0v1.0h-1.0z" fill="#b4c0ff"/><path d="M308.0 89.6h1.0v1.0h-1.0zM323.2 94.5h1.0v1.0h-1.0zM300.5 90.2h1.0v1.0h-1.0zM332.7 94.3h1.0v1.0h-1.0zM301.2 90.5h1.0v1.0h-1.0zM295.2 95.6h1.0v1.0h-1.0zM300.7 88.1h1.0v1.0h-1.0zM302.9 92.6h1.0v1.0h-1.0zM306.8 96.6h1.0v1.0h-1.0zM301.2 97.8h1.0v1.0h-1.0zM296.9 91.4h1.0v1.0h-1.0zM306.8 90.8h1.0v1.0h-1.0zM310.9 84.9h1.0v1.0h-1.0zM314.2 87.1h1.0v1.0h-1.0zM300.2 93.9h1.0v1.0h-1.0zM297.9 90.0h1.0v1.0h-1.0zM303.8 91.9h1.0v1.0h-1.0zM295.2 94.0h1.0v1.0h-1.0zM295.0 89.8h1.0v1.0h-1.0z" fill="#6a84ff"/><path d="M308.2 88.3h1.0v1.0h-1.0zM295.8 97.7h1.0v1.0h-1.0zM311.9 94.3h1.0v1.0h-1.0zM299.6 93.6h1.0v1.0h-1.0zM301.4 95.9h1.0v1.0h-1.0zM296.0 91.2h1.0v1.0h-1.0zM313.8 89.5h1.0v1.0h-1.0zM301.7 89.9h1.0v1.0h-1.0zM295.2 93.5h1.0v1.0h-1.0zM317.5 94.4h1.0v1.0h-1.0zM295.0 90.3h1.0v1.0h-1.0zM298.1 95.1h1.0v1.0h-1.0zM310.1 85.7h1.0v1.0h-1.0zM295.9 89.1h1.0v1.0h-1.0zM305.1 88.8h1.0v1.0h-1.0zM307.4 92.2h1.0v1.0h-1.0zM295.9 80.2h1.0v1.0h-1.0zM295.9 97.8h1.0v1.0h-1.0z" fill="#8898ff"/><path d="M357.0 85.0h1.0v1.0h-1.0zM358.0 85.0h1.0v1.0h-1.0zM358.0 88.0h1.0v1.0h-1.0zM361.0 89.0h1.0v1.0h-1.0zM362.0 89.0h1.0v1.0h-1.0zM360.0 90.0h1.0v1.0h-1.0zM362.0 90.0h1.0v1.0h-1.0zM357.0 93.0h1.0v1.0h-1.0zM360.0 93.0h1.0v1.0h-1.0zM360.0 94.0h1.0v1.0h-1.0zM359.0 96.0h1.0v1.0h-1.0zM362.0 97.0h1.0v1.0h-1.0zM357.0 98.0h1.0v1.0h-1.0zM361.0 98.0h1.0v1.0h-1.0zM362.0 98.0h1.0v1.0h-1.0zM360.0 100.0h1.0v1.0h-1.0z" fill="#20d8c0"/><path d="M359.0 85.0h1.0v1.0h-1.0zM357.0 86.0h1.0v1.0h-1.0zM360.0 86.0h1.0v1.0h-1.0zM357.0 87.0h1.0v1.0h-1.0zM362.0 87.0h1.0v1.0h-1.0zM359.0 88.0h1.0v1.0h-1.0zM358.0 89.0h1.0v1.0h-1.0zM357.0 90.0h1.0v1.0h-1.0zM358.0 90.0h1.0v1.0h-1.0zM357.0 91.0h1.0v1.0h-1.0zM360.0 91.0h1.0v1.0h-1.0zM362.0 91.0h1.0v1.0h-1.0zM361.0 92.0h1.0v1.0h-1.0zM357.0 94.0h1.0v1.0h-1.0zM362.0 94.0h1.0v1.0h-1.0zM360.0 95.0h1.0v1.0h-1.0zM361.0 95.0h1.0v1.0h-1.0zM358.0 97.0h1.0v1.0h-1.0zM358.0 98.0h1.0v1.0h-1.0zM360.0 98.0h1.0v1.0h-1.0zM360.0 99.0h1.0v1.0h-1.0zM361.0 99.0h1.0v1.0h-1.0zM362.0 99.0h1.0v1.0h-1.0zM358.0 100.0h1.0v1.0h-1.0zM361.0 100.0h1.0v1.0h-1.0z" fill="#2a48ff"/><path d="M360.0 85.0h1.0v1.0h-1.0zM361.0 85.0h1.0v1.0h-1.0zM358.0 86.0h1.0v1.0h-1.0zM359.0 86.0h1.0v1.0h-1.0zM360.0 87.0h1.0v1.0h-1.0zM357.0 88.0h1.0v1.0h-1.0zM359.0 89.0h1.0v1.0h-1.0zM358.0 91.0h1.0v1.0h-1.0zM361.0 91.0h1.0v1.0h-1.0zM362.0 92.0h1.0v1.0h-1.0zM361.0 96.0h1.0v1.0h-1.0zM357.0 97.0h1.0v1.0h-1.0zM360.0 97.0h1.0v1.0h-1.0zM361.0 97.0h1.0v1.0h-1.0zM358.0 99.0h1.0v1.0h-1.0zM359.0 99.0h1.0v1.0h-1.0zM357.0 100.0h1.0v1.0h-1.0z" fill="#10a8ff"/><path d="M362.0 86.0h1.0v1.0h-1.0zM358.0 87.0h1.0v1.0h-1.0zM361.0 87.0h1.0v1.0h-1.0zM361.0 88.0h1.0v1.0h-1.0zM362.0 88.0h1.0v1.0h-1.0zM360.0 89.0h1.0v1.0h-1.0zM359.0 90.0h1.0v1.0h-1.0zM361.0 90.0h1.0v1.0h-1.0zM359.0 91.0h1.0v1.0h-1.0zM357.0 92.0h1.0v1.0h-1.0zM358.0 92.0h1.0v1.0h-1.0zM359.0 92.0h1.0v1.0h-1.0zM360.0 92.0h1.0v1.0h-1.0zM358.0 93.0h1.0v1.0h-1.0zM361.0 93.0h1.0v1.0h-1.0zM361.0 94.0h1.0v1.0h-1.0zM358.0 95.0h1.0v1.0h-1.0zM359.0 95.0h1.0v1.0h-1.0zM362.0 95.0h1.0v1.0h-1.0zM357.0 96.0h1.0v1.0h-1.0zM360.0 96.0h1.0v1.0h-1.0zM359.0 98.0h1.0v1.0h-1.0zM357.0 99.0h1.0v1.0h-1.0zM359.0 100.0h1.0v1.0h-1.0z" fill="#38e040"/><path d="M359.0 87.0h1.0v1.0h-1.0zM359.0 97.0h1.0v1.0h-1.0z" fill="#e8e000"/><path d="M357.0 89.0h1.0v1.0h-1.0zM362.0 100.0h1.0v1.0h-1.0z" fill="#90f020"/><path d="M356.0 84.0h1.0v1.0h-1.0zM357.2 92.3h1.0v1.0h-1.0zM355.8 91.5h1.0v1.0h-1.0zM357.9 98.1h1.0v1.0h-1.0zM358.7 88.8h1.0v1.0h-1.0zM355.9 98.1h1.0v1.0h-1.0zM362.4 95.1h1.0v1.0h-1.0z" fill="#98a8ff"/><path d="M356.8 84.5h1.0v1.0h-1.0zM363.9 97.8h1.0v1.0h-1.0zM364.4 89.9h1.0v1.0h-1.0zM356.3 91.7h1.0v1.0h-1.0zM356.3 97.3h1.0v1.0h-1.0zM359.0 101.4h1.0v1.0h-1.0zM362.8 84.3h1.0v1.0h-1.0zM359.9 99.2h1.0v1.0h-1.0zM358.5 88.9h1.0v1.0h-1.0zM364.5 84.8h1.0v1.0h-1.0z" fill="#4a68ff"/><path d="M361.7 93.7h1.0v1.0h-1.0zM355.8 96.5h1.0v1.0h-1.0zM363.5 102.7h1.0v1.0h-1.0zM357.1 83.6h1.0v1.0h-1.0zM360.8 98.3h1.0v1.0h-1.0zM358.9 99.5h1.0v1.0h-1.0zM358.6 97.9h1.0v1.0h-1.0zM356.5 97.5h1.0v1.0h-1.0z" fill="#7088ff"/><path d="M393.8 90.9h1.0v1.0h-1.0zM370.2 91.4h1.0v1.0h-1.0zM369.6 91.0h1.0v1.0h-1.0zM366.1 94.8h1.0v1.0h-1.0zM398.8 94.2h1.0v1.0h-1.0zM367.0 96.5h1.0v1.0h-1.0zM364.1 85.9h1.0v1.0h-1.0zM380.1 84.4h1.0v1.0h-1.0zM363.3 96.4h1.0v1.0h-1.0zM370.9 95.0h1.0v1.0h-1.0zM368.0 93.2h1.0v1.0h-1.0zM365.3 101.9h1.0v1.0h-1.0zM400.1 91.9h1.0v1.0h-1.0z" fill="#6a84ff"/><path d="M379.9 95.2h1.0v1.0h-1.0zM380.3 99.8h1.0v1.0h-1.0zM372.7 95.1h1.0v1.0h-1.0zM365.2 91.7h1.0v1.0h-1.0zM365.1 93.5h1.0v1.0h-1.0zM383.9 93.4h1.0v1.0h-1.0zM365.5 91.8h1.0v1.0h-1.0zM374.3 94.6h1.0v1.0h-1.0zM373.9 94.0h1.0v1.0h-1.0zM383.0 97.1h1.0v1.0h-1.0zM368.2 96.5h1.0v1.0h-1.0zM376.4 95.0h1.0v1.0h-1.0zM364.2 86.0h1.0v1.0h-1.0zM363.9 93.4h1.0v1.0h-1.0zM373.2 96.7h1.0v1.0h-1.0z" fill="#b4c0ff"/><path d="M389.3 96.2h1.0v1.0h-1.0zM372.3 91.6h1.0v1.0h-1.0zM378.1 88.4h1.0v1.0h-1.0zM366.5 89.7h1.0v1.0h-1.0zM389.6 94.5h1.0v1.0h-1.0zM364.1 98.1h1.0v1.0h-1.0zM373.2 95.3h1.0v1.0h-1.0zM368.3 94.5h1.0v1.0h-1.0zM374.0 92.1h1.0v1.0h-1.0zM371.5 86.5h1.0v1.0h-1.0z" fill="#8898ff"/><path d="M378.3 96.3h1.0v1.0h-1.0zM363.7 94.7h1.0v1.0h-1.0zM384.5 92.6h1.0v1.0h-1.0zM376.8 96.6h1.0v1.0h-1.0zM365.9 93.4h1.0v1.0h-1.0zM373.6 98.1h1.0v1.0h-1.0zM387.6 94.4h1.0v1.0h-1.0zM370.2 95.6h1.0v1.0h-1.0zM363.4 92.3h1.0v1.0h-1.0zM368.3 93.9h1.0v1.0h-1.0zM364.2 93.6h1.0v1.0h-1.0zM364.4 90.3h1.0v1.0h-1.0zM371.0 87.7h1.0v1.0h-1.0zM370.4 96.5h1.0v1.0h-1.0zM366.6 93.7h1.0v1.0h-1.0z" fill="#9fb0ff"/><path d="M426.0 85.0h1.0v1.0h-1.0zM429.0 85.0h1.0v1.0h-1.0zM426.0 86.0h1.0v1.0h-1.0zM427.0 86.0h1.0v1.0h-1.0zM429.0 86.0h1.0v1.0h-1.0zM428.0 87.0h1.0v1.0h-1.0zM430.0 87.0h1.0v1.0h-1.0zM431.0 87.0h1.0v1.0h-1.0zM428.0 88.0h1.0v1.0h-1.0zM429.0 88.0h1.0v1.0h-1.0zM431.0 88.0h1.0v1.0h-1.0zM426.0 91.0h1.0v1.0h-1.0zM426.0 92.0h1.0v1.0h-1.0zM427.0 92.0h1.0v1.0h-1.0zM428.0 92.0h1.0v1.0h-1.0zM429.0 94.0h1.0v1.0h-1.0zM429.0 96.0h1.0v1.0h-1.0zM426.0 97.0h1.0v1.0h-1.0zM429.0 97.0h1.0v1.0h-1.0zM426.0 98.0h1.0v1.0h-1.0zM426.0 99.0h1.0v1.0h-1.0zM429.0 99.0h1.0v1.0h-1.0z" fill="#2a48ff"/><path d="M427.0 85.0h1.0v1.0h-1.0zM428.0 85.0h1.0v1.0h-1.0zM426.0 87.0h1.0v1.0h-1.0zM426.0 88.0h1.0v1.0h-1.0zM427.0 88.0h1.0v1.0h-1.0zM426.0 89.0h1.0v1.0h-1.0zM430.0 90.0h1.0v1.0h-1.0zM429.0 91.0h1.0v1.0h-1.0zM428.0 93.0h1.0v1.0h-1.0zM428.0 94.0h1.0v1.0h-1.0zM426.0 95.0h1.0v1.0h-1.0zM427.0 95.0h1.0v1.0h-1.0zM427.0 97.0h1.0v1.0h-1.0zM427.0 98.0h1.0v1.0h-1.0zM428.0 98.0h1.0v1.0h-1.0zM427.0 99.0h1.0v1.0h-1.0zM428.0 100.0h1.0v1.0h-1.0z" fill="#10a8ff"/><path d="M430.0 85.0h1.0v1.0h-1.0zM429.0 87.0h1.0v1.0h-1.0zM430.0 88.0h1.0v1.0h-1.0zM428.0 89.0h1.0v1.0h-1.0zM430.0 89.0h1.0v1.0h-1.0zM428.0 90.0h1.0v1.0h-1.0zM428.0 91.0h1.0v1.0h-1.0zM429.0 92.0h1.0v1.0h-1.0zM430.0 92.0h1.0v1.0h-1.0zM426.0 93.0h1.0v1.0h-1.0zM428.0 95.0h1.0v1.0h-1.0zM429.0 95.0h1.0v1.0h-1.0zM428.0 97.0h1.0v1.0h-1.0zM428.0 99.0h1.0v1.0h-1.0z" fill="#38e040"/><path d="M431.0 85.0h1.0v1.0h-1.0zM428.0 86.0h1.0v1.0h-1.0zM430.0 86.0h1.0v1.0h-1.0zM431.0 86.0h1.0v1.0h-1.0zM427.0 87.0h1.0v1.0h-1.0zM427.0 93.0h1.0v1.0h-1.0zM430.0 93.0h1.0v1.0h-1.0zM426.0 96.0h1.0v1.0h-1.0zM428.0 96.0h1.0v1.0h-1.0zM429.0 98.0h1.0v1.0h-1.0zM426.0 100.0h1.0v1.0h-1.0z" fill="#20d8c0"/><path d="M431.0 89.0h1.0v1.0h-1.0zM426.0 90.0h1.0v1.0h-1.0zM427.0 94.0h1.0v1.0h-1.0z" fill="#90f020"/><path d="M427.4 83.7h1.0v1.0h-1.0zM432.4 100.9h1.0v1.0h-1.0zM430.8 92.2h1.0v1.0h-1.0zM426.3 87.4h1.0v1.0h-1.0z" fill="#98a8ff"/><path d="M431.6 88.3h1.0v1.0h-1.0zM426.7 86.6h1.0v1.0h-1.0zM425.1 94.2h1.0v1.0h-1.0z" fill="#4a68ff"/><path d="M425.4 93.9h1.0v1.0h-1.0z" fill="#7088ff"/><path d="M435.1 90.0h1.0v1.0h-1.0z" fill="#6a84ff"/><path d="M437.0 94.4h1.0v1.0h-1.0z" fill="#8898ff"/><path d="M288.0 156.0h1.0v1.0h-1.0zM285.0 157.0h1.0v1.0h-1.0zM287.0 159.0h1.0v1.0h-1.0zM285.0 164.0h1.0v1.0h-1.0zM289.0 167.0h1.0v1.0h-1.0z" fill="#98acff"/><path d="M289.0 156.0h1.0v1.0h-1.0zM286.0 157.0h1.0v1.0h-1.0zM285.0 159.0h1.0v1.0h-1.0zM288.0 159.0h1.0v1.0h-1.0zM289.0 162.0h1.0v1.0h-1.0zM286.0 164.0h1.0v1.0h-1.0zM286.0 165.0h1.0v1.0h-1.0zM288.0 165.0h1.0v1.0h-1.0zM286.0 167.0h1.0v1.0h-1.0zM287.0 168.0h1.0v1.0h-1.0z" fill="#b0c0ff"/><path d="M289.0 157.0h1.0v1.0h-1.0zM285.0 160.0h1.0v1.0h-1.0zM287.0 162.0h1.0v1.0h-1.0zM289.0 163.0h1.0v1.0h-1.0zM288.0 164.0h1.0v1.0h-1.0zM285.0 165.0h1.0v1.0h-1.0zM285.0 167.0h1.0v1.0h-1.0z" fill="#5a78ff"/><path d="M287.0 160.0h1.0v1.0h-1.0zM289.0 168.0h1.0v1.0h-1.0z" fill="#7890ff"/><path d="M285.6 159.5h1.0v1.0h-1.0zM283.9 166.4h1.0v1.0h-1.0zM289.7 163.7h1.0v1.0h-1.0zM290.4 155.0h1.0v1.0h-1.0zM283.5 161.8h1.0v1.0h-1.0zM289.1 167.5h1.0v1.0h-1.0zM285.6 169.5h1.0v1.0h-1.0zM288.0 155.3h1.0v1.0h-1.0zM292.8 160.8h1.0v1.0h-1.0zM294.8 155.8h1.0v1.0h-1.0zM295.6 164.7h1.0v1.0h-1.0zM291.7 162.2h1.0v1.0h-1.0zM290.8 170.7h1.0v1.0h-1.0zM297.8 162.5h1.0v1.0h-1.0zM289.5 162.3h1.0v1.0h-1.0zM295.5 168.8h1.0v1.0h-1.0zM296.8 164.9h1.0v1.0h-1.0zM304.3 157.7h1.0v1.0h-1.0zM297.9 165.2h1.0v1.0h-1.0z" fill="#a0b0ff"/><path d="M290.3 164.0h1.0v1.0h-1.0zM284.9 153.5h1.0v1.0h-1.0zM285.8 166.3h1.0v1.0h-1.0zM290.0 169.5h1.0v1.0h-1.0z" fill="#8098ff"/><path d="M289.8 154.0h1.0v1.0h-1.0zM289.7 159.4h1.0v1.0h-1.0zM283.9 163.1h1.0v1.0h-1.0zM288.2 169.8h1.0v1.0h-1.0zM287.5 155.4h1.0v1.0h-1.0zM289.6 161.8h1.0v1.0h-1.0z" fill="#b8c4ff"/><path d="M292.6 164.7h1.0v1.0h-1.0zM308.0 166.5h1.0v1.0h-1.0zM294.4 165.5h1.0v1.0h-1.0zM299.3 160.0h1.0v1.0h-1.0zM294.7 159.4h1.0v1.0h-1.0zM297.1 161.9h1.0v1.0h-1.0zM297.7 159.9h1.0v1.0h-1.0zM315.3 161.2h1.0v1.0h-1.0zM290.7 157.3h1.0v1.0h-1.0zM290.3 154.5h1.0v1.0h-1.0zM298.8 168.7h1.0v1.0h-1.0zM291.7 168.0h1.0v1.0h-1.0zM291.1 166.9h1.0v1.0h-1.0zM293.9 168.8h1.0v1.0h-1.0zM317.2 161.8h1.0v1.0h-1.0zM296.0 162.7h1.0v1.0h-1.0zM290.4 157.8h1.0v1.0h-1.0zM292.1 160.9h1.0v1.0h-1.0zM291.4 160.9h1.0v1.0h-1.0zM298.2 160.2h1.0v1.0h-1.0zM305.2 164.8h1.0v1.0h-1.0z" fill="#c4ceff"/><path d="M304.9 158.4h1.0v1.0h-1.0zM317.8 156.3h1.0v1.0h-1.0zM291.4 164.8h1.0v1.0h-1.0zM290.7 155.5h1.0v1.0h-1.0zM311.3 161.5h1.0v1.0h-1.0zM294.1 160.1h1.0v1.0h-1.0zM296.3 157.6h1.0v1.0h-1.0zM300.0 158.9h1.0v1.0h-1.0z" fill="#b0bcff"/><path d="M355.0 155.0h1.0v1.0h-1.0zM355.0 156.0h1.0v1.0h-1.0zM356.0 157.0h1.0v1.0h-1.0zM358.0 161.0h1.0v1.0h-1.0zM355.0 165.0h1.0v1.0h-1.0zM358.0 169.0h1.0v1.0h-1.0z" fill="#20d8c0"/><path d="M356.0 155.0h1.0v1.0h-1.0zM357.0 156.0h1.0v1.0h-1.0zM357.0 157.0h1.0v1.0h-1.0zM358.0 158.0h1.0v1.0h-1.0zM356.0 159.0h1.0v1.0h-1.0zM357.0 160.0h1.0v1.0h-1.0zM356.0 163.0h1.0v1.0h-1.0zM356.0 165.0h1.0v1.0h-1.0zM358.0 165.0h1.0v1.0h-1.0zM355.0 167.0h1.0v1.0h-1.0zM358.0 167.0h1.0v1.0h-1.0zM355.0 169.0h1.0v1.0h-1.0zM356.0 169.0h1.0v1.0h-1.0zM357.0 169.0h1.0v1.0h-1.0zM355.0 170.0h1.0v1.0h-1.0zM356.0 170.0h1.0v1.0h-1.0zM358.0 171.0h1.0v1.0h-1.0z" fill="#38e040"/><path d="M358.0 155.0h1.0v1.0h-1.0zM355.0 158.0h1.0v1.0h-1.0zM355.0 159.0h1.0v1.0h-1.0zM358.0 159.0h1.0v1.0h-1.0zM356.0 160.0h1.0v1.0h-1.0zM356.0 161.0h1.0v1.0h-1.0zM357.0 162.0h1.0v1.0h-1.0zM358.0 162.0h1.0v1.0h-1.0zM355.0 164.0h1.0v1.0h-1.0zM356.0 164.0h1.0v1.0h-1.0zM357.0 164.0h1.0v1.0h-1.0zM356.0 166.0h1.0v1.0h-1.0zM358.0 166.0h1.0v1.0h-1.0zM356.0 167.0h1.0v1.0h-1.0zM357.0 167.0h1.0v1.0h-1.0zM355.0 168.0h1.0v1.0h-1.0zM357.0 168.0h1.0v1.0h-1.0zM357.0 170.0h1.0v1.0h-1.0zM358.0 170.0h1.0v1.0h-1.0zM355.0 171.0h1.0v1.0h-1.0zM356.0 171.0h1.0v1.0h-1.0z" fill="#2a48ff"/><path d="M356.0 156.0h1.0v1.0h-1.0zM358.0 156.0h1.0v1.0h-1.0zM356.0 158.0h1.0v1.0h-1.0zM357.0 158.0h1.0v1.0h-1.0zM355.0 161.0h1.0v1.0h-1.0zM357.0 163.0h1.0v1.0h-1.0zM358.0 163.0h1.0v1.0h-1.0zM358.0 164.0h1.0v1.0h-1.0zM357.0 171.0h1.0v1.0h-1.0z" fill="#10a8ff"/><path d="M358.0 157.0h1.0v1.0h-1.0z" fill="#90f020"/><path d="M353.5 170.3h1.0v1.0h-1.0zM358.7 163.5h1.0v1.0h-1.0zM359.8 161.0h1.0v1.0h-1.0zM357.7 171.7h1.0v1.0h-1.0zM353.9 159.3h1.0v1.0h-1.0z" fill="#7088ff"/><path d="M361.0 167.0h1.0v1.0h-1.0zM358.3 166.2h1.0v1.0h-1.0zM360.5 160.1h1.0v1.0h-1.0zM357.3 163.2h1.0v1.0h-1.0z" fill="#4a68ff"/><path d="M353.7 154.4h1.0v1.0h-1.0zM353.8 167.9h1.0v1.0h-1.0zM354.5 155.4h1.0v1.0h-1.0zM356.2 163.0h1.0v1.0h-1.0zM356.8 161.9h1.0v1.0h-1.0zM359.7 161.6h1.0v1.0h-1.0z" fill="#98a8ff"/><path d="M383.8 162.0h1.0v1.0h-1.0zM377.7 171.9h1.0v1.0h-1.0zM361.9 159.1h1.0v1.0h-1.0z" fill="#6a84ff"/><path d="M377.8 165.7h1.0v1.0h-1.0zM377.5 160.3h1.0v1.0h-1.0z" fill="#8898ff"/><path d="M361.6 163.0h1.0v1.0h-1.0zM377.4 161.5h1.0v1.0h-1.0zM365.1 159.7h1.0v1.0h-1.0zM365.1 162.1h1.0v1.0h-1.0zM359.1 166.8h1.0v1.0h-1.0zM370.5 159.2h1.0v1.0h-1.0zM370.8 166.2h1.0v1.0h-1.0zM365.6 168.7h1.0v1.0h-1.0z" fill="#9fb0ff"/><path d="M388.5 161.4h1.0v1.0h-1.0z" fill="#b4c0ff"/><path d="M426.0 156.0h1.0v1.0h-1.0zM427.0 158.0h1.0v1.0h-1.0zM426.0 160.0h1.0v1.0h-1.0zM426.0 161.0h1.0v1.0h-1.0zM427.0 162.0h1.0v1.0h-1.0zM425.0 163.0h1.0v1.0h-1.0zM427.0 166.0h1.0v1.0h-1.0zM425.0 168.0h1.0v1.0h-1.0zM426.0 170.0h1.0v1.0h-1.0z" fill="#2a48ff"/><path d="M427.0 156.0h1.0v1.0h-1.0zM426.0 157.0h1.0v1.0h-1.0zM426.0 163.0h1.0v1.0h-1.0zM426.0 165.0h1.0v1.0h-1.0z" fill="#4a70ff"/><path d="M425.0 157.0h1.0v1.0h-1.0zM427.0 160.0h1.0v1.0h-1.0zM425.0 167.0h1.0v1.0h-1.0z" fill="#30d0a0"/><path d="M426.0 158.0h1.0v1.0h-1.0zM425.0 160.0h1.0v1.0h-1.0zM426.0 164.0h1.0v1.0h-1.0zM425.0 165.0h1.0v1.0h-1.0zM427.0 165.0h1.0v1.0h-1.0z" fill="#10a8ff"/><path d="M426.0 159.0h1.0v1.0h-1.0zM427.0 169.0h1.0v1.0h-1.0z" fill="#40e040"/><path d="M424.3 171.7h1.0v1.0h-1.0z" fill="#4a68ff"/><path d="M427.6 162.0h1.0v1.0h-1.0zM428.6 162.6h1.0v1.0h-1.0zM428.6 164.7h1.0v1.0h-1.0zM428.1 169.4h1.0v1.0h-1.0z" fill="#7088ff"/><path d="M425.3 165.7h1.0v1.0h-1.0z" fill="#98a8ff"/><path d="M434.1 163.4h1.0v1.0h-1.0z" fill="#b4c0ff"/><path d="M430.8 163.0h1.0v1.0h-1.0z" fill="#8898ff"/><path d="M284.0 222.0h1.0v1.0h-1.0zM289.0 223.0h1.0v1.0h-1.0zM288.0 229.0h1.0v1.0h-1.0zM288.0 235.0h1.0v1.0h-1.0zM285.0 236.0h1.0v1.0h-1.0z" fill="#90f020"/><path d="M285.0 222.0h1.0v1.0h-1.0zM287.0 222.0h1.0v1.0h-1.0zM285.0 224.0h1.0v1.0h-1.0zM287.0 224.0h1.0v1.0h-1.0zM289.0 225.0h1.0v1.0h-1.0zM284.0 226.0h1.0v1.0h-1.0zM287.0 226.0h1.0v1.0h-1.0zM289.0 227.0h1.0v1.0h-1.0zM284.0 230.0h1.0v1.0h-1.0zM285.0 230.0h1.0v1.0h-1.0zM289.0 232.0h1.0v1.0h-1.0zM288.0 233.0h1.0v1.0h-1.0zM289.0 233.0h1.0v1.0h-1.0zM284.0 234.0h1.0v1.0h-1.0zM285.0 234.0h1.0v1.0h-1.0zM287.0 236.0h1.0v1.0h-1.0zM289.0 236.0h1.0v1.0h-1.0zM284.0 238.0h1.0v1.0h-1.0zM285.0 238.0h1.0v1.0h-1.0zM287.0 239.0h1.0v1.0h-1.0z" fill="#10a8ff"/><path d="M286.0 222.0h1.0v1.0h-1.0zM285.0 223.0h1.0v1.0h-1.0zM288.0 224.0h1.0v1.0h-1.0zM285.0 225.0h1.0v1.0h-1.0zM289.0 226.0h1.0v1.0h-1.0zM285.0 227.0h1.0v1.0h-1.0zM287.0 227.0h1.0v1.0h-1.0zM288.0 227.0h1.0v1.0h-1.0zM287.0 228.0h1.0v1.0h-1.0zM289.0 228.0h1.0v1.0h-1.0zM289.0 230.0h1.0v1.0h-1.0zM286.0 231.0h1.0v1.0h-1.0zM288.0 232.0h1.0v1.0h-1.0zM284.0 233.0h1.0v1.0h-1.0zM287.0 233.0h1.0v1.0h-1.0zM286.0 234.0h1.0v1.0h-1.0zM289.0 234.0h1.0v1.0h-1.0zM287.0 235.0h1.0v1.0h-1.0zM288.0 236.0h1.0v1.0h-1.0zM288.0 237.0h1.0v1.0h-1.0zM286.0 238.0h1.0v1.0h-1.0zM288.0 238.0h1.0v1.0h-1.0zM289.0 238.0h1.0v1.0h-1.0zM288.0 239.0h1.0v1.0h-1.0z" fill="#38e040"/><path d="M288.0 222.0h1.0v1.0h-1.0zM289.0 222.0h1.0v1.0h-1.0zM286.0 223.0h1.0v1.0h-1.0zM284.0 225.0h1.0v1.0h-1.0zM287.0 225.0h1.0v1.0h-1.0zM285.0 226.0h1.0v1.0h-1.0zM288.0 226.0h1.0v1.0h-1.0zM284.0 228.0h1.0v1.0h-1.0zM285.0 228.0h1.0v1.0h-1.0zM286.0 228.0h1.0v1.0h-1.0zM284.0 229.0h1.0v1.0h-1.0zM286.0 229.0h1.0v1.0h-1.0zM289.0 229.0h1.0v1.0h-1.0zM284.0 231.0h1.0v1.0h-1.0zM285.0 231.0h1.0v1.0h-1.0zM287.0 231.0h1.0v1.0h-1.0zM289.0 231.0h1.0v1.0h-1.0zM284.0 232.0h1.0v1.0h-1.0zM285.0 233.0h1.0v1.0h-1.0zM286.0 233.0h1.0v1.0h-1.0zM284.0 235.0h1.0v1.0h-1.0zM284.0 236.0h1.0v1.0h-1.0zM286.0 236.0h1.0v1.0h-1.0zM285.0 237.0h1.0v1.0h-1.0zM286.0 237.0h1.0v1.0h-1.0zM289.0 237.0h1.0v1.0h-1.0zM285.0 239.0h1.0v1.0h-1.0zM286.0 239.0h1.0v1.0h-1.0z" fill="#2a48ff"/><path d="M284.0 224.0h1.0v1.0h-1.0zM286.0 224.0h1.0v1.0h-1.0zM288.0 225.0h1.0v1.0h-1.0zM284.0 227.0h1.0v1.0h-1.0zM288.0 228.0h1.0v1.0h-1.0zM285.0 229.0h1.0v1.0h-1.0zM287.0 232.0h1.0v1.0h-1.0zM286.0 235.0h1.0v1.0h-1.0zM287.0 237.0h1.0v1.0h-1.0z" fill="#20d8c0"/><path d="M283.8 233.9h1.0v1.0h-1.0zM288.2 224.5h1.0v1.0h-1.0zM287.2 227.8h1.0v1.0h-1.0zM290.1 238.7h1.0v1.0h-1.0zM283.3 229.1h1.0v1.0h-1.0zM284.2 238.0h1.0v1.0h-1.0zM283.6 235.5h1.0v1.0h-1.0z" fill="#7088ff"/><path d="M289.8 227.7h1.0v1.0h-1.0zM285.1 228.1h1.0v1.0h-1.0zM289.4 235.4h1.0v1.0h-1.0zM289.1 236.5h1.0v1.0h-1.0zM287.2 238.2h1.0v1.0h-1.0zM283.7 234.5h1.0v1.0h-1.0zM290.9 240.8h1.0v1.0h-1.0zM289.3 221.8h1.0v1.0h-1.0z" fill="#4a68ff"/><path d="M286.5 237.1h1.0v1.0h-1.0zM290.7 225.1h1.0v1.0h-1.0zM284.1 238.2h1.0v1.0h-1.0zM287.9 237.9h1.0v1.0h-1.0zM284.4 233.4h1.0v1.0h-1.0zM284.3 221.9h1.0v1.0h-1.0zM282.8 235.2h1.0v1.0h-1.0zM287.9 220.6h1.0v1.0h-1.0zM289.5 238.7h1.0v1.0h-1.0zM291.1 230.9h1.0v1.0h-1.0z" fill="#98a8ff"/><path d="M289.7 231.7h1.0v1.0h-1.0zM320.3 229.0h1.0v1.0h-1.0zM289.7 234.0h1.0v1.0h-1.0zM290.7 231.0h1.0v1.0h-1.0zM301.9 233.8h1.0v1.0h-1.0zM299.3 232.9h1.0v1.0h-1.0zM290.3 232.2h1.0v1.0h-1.0zM298.0 233.6h1.0v1.0h-1.0zM298.0 227.6h1.0v1.0h-1.0zM293.2 231.7h1.0v1.0h-1.0zM312.7 234.6h1.0v1.0h-1.0zM292.3 236.1h1.0v1.0h-1.0z" fill="#b4c0ff"/><path d="M298.2 232.7h1.0v1.0h-1.0zM290.5 235.3h1.0v1.0h-1.0zM295.6 227.8h1.0v1.0h-1.0zM297.7 231.7h1.0v1.0h-1.0zM304.7 226.7h1.0v1.0h-1.0zM298.5 234.0h1.0v1.0h-1.0zM312.0 227.0h1.0v1.0h-1.0zM290.7 233.9h1.0v1.0h-1.0zM296.0 227.1h1.0v1.0h-1.0zM292.7 231.3h1.0v1.0h-1.0z" fill="#9fb0ff"/><path d="M292.2 234.0h1.0v1.0h-1.0zM296.2 226.1h1.0v1.0h-1.0zM292.4 226.4h1.0v1.0h-1.0zM296.5 231.4h1.0v1.0h-1.0zM316.1 236.6h1.0v1.0h-1.0zM292.1 235.8h1.0v1.0h-1.0zM290.1 231.1h1.0v1.0h-1.0zM291.5 229.6h1.0v1.0h-1.0zM321.0 228.5h1.0v1.0h-1.0zM294.7 222.7h1.0v1.0h-1.0zM292.0 235.3h1.0v1.0h-1.0zM299.0 232.9h1.0v1.0h-1.0zM307.3 231.4h1.0v1.0h-1.0z" fill="#6a84ff"/><path d="M294.0 237.5h1.0v1.0h-1.0zM294.1 228.5h1.0v1.0h-1.0zM300.8 233.8h1.0v1.0h-1.0zM293.0 234.7h1.0v1.0h-1.0zM289.8 223.3h1.0v1.0h-1.0zM298.2 227.1h1.0v1.0h-1.0zM292.6 231.3h1.0v1.0h-1.0zM293.3 231.7h1.0v1.0h-1.0zM297.3 230.4h1.0v1.0h-1.0zM309.5 237.0h1.0v1.0h-1.0z" fill="#8898ff"/><path d="M353.0 222.0h1.0v1.0h-1.0zM354.0 222.0h1.0v1.0h-1.0zM355.0 225.0h1.0v1.0h-1.0zM356.0 226.0h1.0v1.0h-1.0zM357.0 227.0h1.0v1.0h-1.0zM354.0 230.0h1.0v1.0h-1.0zM356.0 230.0h1.0v1.0h-1.0zM353.0 231.0h1.0v1.0h-1.0zM357.0 231.0h1.0v1.0h-1.0zM357.0 232.0h1.0v1.0h-1.0zM355.0 237.0h1.0v1.0h-1.0z" fill="#10a8ff"/><path d="M356.0 222.0h1.0v1.0h-1.0zM353.0 223.0h1.0v1.0h-1.0zM353.0 224.0h1.0v1.0h-1.0zM357.0 224.0h1.0v1.0h-1.0zM357.0 225.0h1.0v1.0h-1.0zM354.0 226.0h1.0v1.0h-1.0zM356.0 227.0h1.0v1.0h-1.0zM353.0 228.0h1.0v1.0h-1.0zM353.0 230.0h1.0v1.0h-1.0zM355.0 234.0h1.0v1.0h-1.0zM355.0 236.0h1.0v1.0h-1.0zM356.0 236.0h1.0v1.0h-1.0zM357.0 237.0h1.0v1.0h-1.0z" fill="#38e040"/><path d="M357.0 222.0h1.0v1.0h-1.0zM354.0 227.0h1.0v1.0h-1.0zM354.0 228.0h1.0v1.0h-1.0zM356.0 228.0h1.0v1.0h-1.0zM357.0 233.0h1.0v1.0h-1.0z" fill="#90f020"/><path d="M354.0 223.0h1.0v1.0h-1.0zM356.0 224.0h1.0v1.0h-1.0zM354.0 225.0h1.0v1.0h-1.0zM353.0 226.0h1.0v1.0h-1.0zM357.0 226.0h1.0v1.0h-1.0zM356.0 229.0h1.0v1.0h-1.0zM357.0 229.0h1.0v1.0h-1.0zM354.0 231.0h1.0v1.0h-1.0zM355.0 232.0h1.0v1.0h-1.0zM354.0 233.0h1.0v1.0h-1.0zM353.0 234.0h1.0v1.0h-1.0zM353.0 235.0h1.0v1.0h-1.0zM354.0 235.0h1.0v1.0h-1.0zM356.0 235.0h1.0v1.0h-1.0zM354.0 237.0h1.0v1.0h-1.0z" fill="#20d8c0"/><path d="M355.0 223.0h1.0v1.0h-1.0zM356.0 223.0h1.0v1.0h-1.0zM353.0 225.0h1.0v1.0h-1.0zM355.0 226.0h1.0v1.0h-1.0zM353.0 227.0h1.0v1.0h-1.0zM355.0 227.0h1.0v1.0h-1.0zM355.0 228.0h1.0v1.0h-1.0zM354.0 229.0h1.0v1.0h-1.0zM355.0 230.0h1.0v1.0h-1.0zM357.0 230.0h1.0v1.0h-1.0zM356.0 231.0h1.0v1.0h-1.0zM356.0 232.0h1.0v1.0h-1.0zM353.0 233.0h1.0v1.0h-1.0zM355.0 233.0h1.0v1.0h-1.0zM356.0 234.0h1.0v1.0h-1.0zM357.0 234.0h1.0v1.0h-1.0zM355.0 235.0h1.0v1.0h-1.0zM353.0 236.0h1.0v1.0h-1.0zM354.0 236.0h1.0v1.0h-1.0zM353.0 237.0h1.0v1.0h-1.0zM356.0 237.0h1.0v1.0h-1.0z" fill="#2a48ff"/><path d="M355.9 229.4h1.0v1.0h-1.0zM355.1 221.5h1.0v1.0h-1.0zM356.7 238.7h1.0v1.0h-1.0zM354.5 237.6h1.0v1.0h-1.0zM354.4 231.9h1.0v1.0h-1.0z" fill="#7088ff"/><path d="M358.5 221.7h1.0v1.0h-1.0zM357.5 231.5h1.0v1.0h-1.0zM357.7 227.2h1.0v1.0h-1.0zM352.4 225.0h1.0v1.0h-1.0zM352.4 238.2h1.0v1.0h-1.0z" fill="#4a68ff"/><path d="M352.3 232.4h1.0v1.0h-1.0zM352.5 224.1h1.0v1.0h-1.0z" fill="#98a8ff"/><path d="M396.9 227.7h1.0v1.0h-1.0z" fill="#9fb0ff"/><path d="M360.8 225.1h1.0v1.0h-1.0zM378.8 222.9h1.0v1.0h-1.0zM358.9 230.7h1.0v1.0h-1.0z" fill="#b4c0ff"/><path d="M363.3 234.1h1.0v1.0h-1.0z" fill="#6a84ff"/><path d="M362.4 234.1h1.0v1.0h-1.0z" fill="#8898ff"/><path d="M423.0 222.0h1.0v1.0h-1.0zM424.0 223.0h1.0v1.0h-1.0zM425.0 223.0h1.0v1.0h-1.0zM426.0 223.0h1.0v1.0h-1.0zM424.0 224.0h1.0v1.0h-1.0zM425.0 225.0h1.0v1.0h-1.0zM424.0 228.0h1.0v1.0h-1.0zM423.0 230.0h1.0v1.0h-1.0zM423.0 231.0h1.0v1.0h-1.0zM425.0 232.0h1.0v1.0h-1.0zM423.0 233.0h1.0v1.0h-1.0zM424.0 234.0h1.0v1.0h-1.0zM423.0 236.0h1.0v1.0h-1.0zM423.0 238.0h1.0v1.0h-1.0z" fill="#2a48ff"/><path d="M424.0 222.0h1.0v1.0h-1.0zM423.0 223.0h1.0v1.0h-1.0zM423.0 224.0h1.0v1.0h-1.0zM425.0 226.0h1.0v1.0h-1.0zM423.0 229.0h1.0v1.0h-1.0zM425.0 231.0h1.0v1.0h-1.0zM426.0 233.0h1.0v1.0h-1.0zM426.0 235.0h1.0v1.0h-1.0z" fill="#30d0a0"/><path d="M425.0 222.0h1.0v1.0h-1.0zM426.0 229.0h1.0v1.0h-1.0zM424.0 232.0h1.0v1.0h-1.0zM424.0 235.0h1.0v1.0h-1.0zM425.0 236.0h1.0v1.0h-1.0zM423.0 237.0h1.0v1.0h-1.0zM424.0 237.0h1.0v1.0h-1.0z" fill="#10a8ff"/><path d="M425.0 224.0h1.0v1.0h-1.0zM423.0 225.0h1.0v1.0h-1.0zM426.0 225.0h1.0v1.0h-1.0zM423.0 226.0h1.0v1.0h-1.0zM424.0 226.0h1.0v1.0h-1.0zM425.0 227.0h1.0v1.0h-1.0zM423.0 228.0h1.0v1.0h-1.0zM425.0 233.0h1.0v1.0h-1.0zM424.0 236.0h1.0v1.0h-1.0zM426.0 236.0h1.0v1.0h-1.0zM425.0 237.0h1.0v1.0h-1.0zM424.0 238.0h1.0v1.0h-1.0z" fill="#4a70ff"/><path d="M425.0 235.0h1.0v1.0h-1.0z" fill="#40e040"/><path d="M426.0 239.2h1.0v1.0h-1.0zM426.3 221.4h1.0v1.0h-1.0z" fill="#4a68ff"/><path d="M427.8 236.0h1.0v1.0h-1.0zM426.8 221.2h1.0v1.0h-1.0z" fill="#7088ff"/><path d="M428.3 238.0h1.0v1.0h-1.0zM423.5 238.8h1.0v1.0h-1.0z" fill="#98a8ff"/><path d="M434.3 237.9h1.0v1.0h-1.0z" fill="#6a84ff"/><path d="M430.6 226.6h1.0v1.0h-1.0z" fill="#b4c0ff"/><rect x="292.7" y="78.7" width="46.80000000000001" height="29.599999999999994" rx="1.2" fill="none" stroke="#777" stroke-width="1.1"/><rect x="362.5" y="78.7" width="46.25" height="29.599999999999994" rx="1.2" fill="none" stroke="#777" stroke-width="1.1"/><rect x="432.1" y="78.75" width="46.099999999999966" height="29.349999999999994" rx="1.2" fill="none" stroke="#777" stroke-width="1.1"/><rect x="288.2" y="150.8" width="50.30000000000001" height="25.599999999999994" rx="1.2" fill="none" stroke="#777" stroke-width="1.1"/><rect x="358.0" y="150.8" width="49.5" height="25.799999999999983" rx="1.2" fill="none" stroke="#777" stroke-width="1.1"/><rect x="427.3" y="150.8" width="50.099999999999966" height="25.799999999999983" rx="1.2" fill="none" stroke="#777" stroke-width="1.1"/><rect x="287.1" y="219.6" width="49.5" height="26.30000000000001" rx="1.2" fill="none" stroke="#777" stroke-width="1.1"/><rect x="356.4" y="219.6" width="50.400000000000034" height="26.30000000000001" rx="1.2" fill="none" stroke="#777" stroke-width="1.1"/><rect x="426.2" y="219.6" width="50.30000000000001" height="26.30000000000001" rx="1.2" fill="none" stroke="#777" stroke-width="1.1"/><line x1="270" y1="42.4" x2="478.4" y2="42.4" stroke="#505050" stroke-width="1.2"/><line x1="270" y1="42.5" x2="270" y2="251" stroke="#d8d8d8" stroke-width="1"/><line x1="270" y1="251" x2="478.4" y2="251" stroke="#eee" stroke-width="1"/><line x1="478.2" y1="42.5" x2="478.2" y2="182.5" stroke="#555" stroke-width="1.4"/><line x1="478.2" y1="182.5" x2="478.2" y2="251" stroke="#999" stroke-width="1.4"/><line x1="339.1" y1="42.5" x2="339.1" y2="251" stroke="#555" stroke-width="1.5"/><line x1="408.8" y1="42.5" x2="408.8" y2="251" stroke="#555" stroke-width="1.5"/><line x1="270" y1="112.3" x2="478.4" y2="112.3" stroke="#d0d0d0" stroke-width="1"/><line x1="270" y1="182.5" x2="478.4" y2="182.5" stroke="#555" stroke-width="1.1"/><text x="315.15" y="55.4" font-size="9.6" textLength="12.35" lengthAdjust="spacingAndGlyphs" fill="#000">27</text><text x="380.6" y="55.4" font-size="9.6" textLength="19.1" lengthAdjust="spacingAndGlyphs" fill="#000">16.1</text><text x="449.3" y="55.4" font-size="9.6" textLength="20.95" lengthAdjust="spacingAndGlyphs" fill="#000">0.10</text><text x="311.05" y="122.8" font-size="9.6" textLength="20.45" lengthAdjust="spacingAndGlyphs" fill="#000">48.2</text><text x="384.1" y="122.8" font-size="9.6" textLength="13.2" lengthAdjust="spacingAndGlyphs" fill="#000">7.5</text><text x="449.05" y="122.8" font-size="9.6" textLength="20.45" lengthAdjust="spacingAndGlyphs" fill="#000">0.33</text><text x="311.45" y="192.8" font-size="9.6" textLength="20.05" lengthAdjust="spacingAndGlyphs" fill="#000">28.2</text><text x="380.55" y="192.8" font-size="9.6" textLength="19.65" lengthAdjust="spacingAndGlyphs" fill="#000">4.01</text><text x="449.05" y="192.8" font-size="9.6" textLength="20.45" lengthAdjust="spacingAndGlyphs" fill="#000">0.32</text><text x="487.7" y="66.1" font-size="8.2" textLength="19.8" lengthAdjust="spacingAndGlyphs">Day 7</text><text x="487.7" y="139.0" font-size="8.2" textLength="24.4" lengthAdjust="spacingAndGlyphs">Day 28</text><text x="487.7" y="206.2" font-size="8.2" textLength="24.8" lengthAdjust="spacingAndGlyphs">Day 84</text><line x1="261.9" y1="251.5" x2="261.9" y2="162.5" stroke="#444" stroke-width="1.3"/><path d="M261.9 158.3 L259.2 165.5 L261.9 163.8 L264.6 165.5 Z" fill="#000"/><text x="265.8" y="154" font-size="8.6" textLength="64" lengthAdjust="spacingAndGlyphs" font-weight="bold" transform="rotate(-90 265.8 154)">Lineage<tspan font-size="6" dy="-3.2">-</tspan><tspan dy="3.2">Sca1</tspan><tspan font-size="6" dy="-3.2">+</tspan><tspan dy="3.2">C-kit</tspan><tspan font-size="6" dy="-3.2">+</tspan></text><line x1="271" y1="259.6" x2="358" y2="259.6" stroke="#000" stroke-width="1.1"/><path d="M364.8 259.6 L356.8 256.6 L358.8 259.6 L356.8 262.6 Z" fill="#000"/><text x="368.5" y="262.8" font-size="10" textLength="13.2" lengthAdjust="spacingAndGlyphs" font-weight="bold">GFP</text><text x="8.3" y="292.6" font-size="12.2" textLength="7.7" lengthAdjust="spacingAndGlyphs" font-weight="bold" fill="#000" stroke="#000" stroke-width="0.6">B</text><line x1="66" y1="302.1" x2="66" y2="422.1" stroke="#1a1a1a" stroke-width="1.6"/><line x1="63" y1="421.5" x2="241" y2="421.5" stroke="#000" stroke-width="1.3"/><text x="59.4" y="424.4" font-size="8.5" text-anchor="end">0</text><line x1="62.8" y1="392.5" x2="66" y2="392.5" stroke="#111" stroke-width="1.0"/><text x="59.4" y="395.275" font-size="8.5" text-anchor="end">5</text><line x1="62.8" y1="363.0" x2="66" y2="363.0" stroke="#111" stroke-width="1.0"/><text x="59.4" y="366.15" font-size="8.5" text-anchor="end">10</text><line x1="62.8" y1="334.0" x2="66" y2="334.0" stroke="#111" stroke-width="1.0"/><text x="59.4" y="337.025" font-size="8.5" text-anchor="end">15</text><line x1="62.8" y1="305.0" x2="66" y2="305.0" stroke="#111" stroke-width="1.0"/><text x="59.4" y="307.9" font-size="8.5" text-anchor="end">20</text><line x1="123.75" y1="301.7" x2="123.75" y2="421" stroke="#2a2a2a" stroke-width="1.35" stroke-dasharray="1.5 1.76"/><line x1="183.0" y1="301.7" x2="183.0" y2="421" stroke="#2a2a2a" stroke-width="1.35" stroke-dasharray="1.5 1.76"/><line x1="354.7" y1="301.7" x2="354.7" y2="421" stroke="#2a2a2a" stroke-width="1.35" stroke-dasharray="1.5 1.76"/><line x1="413.75" y1="301.7" x2="413.75" y2="421" stroke="#2a2a2a" stroke-width="1.35" stroke-dasharray="1.5 1.76"/><circle cx="77.5" cy="326.5" r="2.3" fill="#a3001e"/><circle cx="77.5" cy="336.9" r="2.3" fill="#a3001e"/><circle cx="80.9" cy="372.75" r="2.3" fill="#a3001e"/><circle cx="74.75" cy="377.75" r="2.3" fill="#a3001e"/><circle cx="74.75" cy="385" r="2.3" fill="#a3001e"/><circle cx="80.6" cy="389" r="2.3" fill="#a3001e"/><circle cx="80.6" cy="395.6" r="2.3" fill="#a3001e"/><circle cx="74.75" cy="400.6" r="2.3" fill="#a3001e"/><line x1="77.7" y1="345.9" x2="77.7" y2="400.3" stroke="#111" stroke-width="0.9"/><line x1="75.3" y1="345.9" x2="80.10000000000001" y2="345.9" stroke="#111" stroke-width="1.0"/><line x1="75.3" y1="400.3" x2="80.10000000000001" y2="400.3" stroke="#111" stroke-width="1.0"/><line x1="72.2" y1="373.1" x2="83.2" y2="373.1" stroke="#111" stroke-width="1.3"/><circle cx="97.25" cy="377.75" r="2.3" fill="none" stroke="#4a69aa" stroke-width="1.0"/><circle cx="91.5" cy="381.5" r="2.3" fill="none" stroke="#4a69aa" stroke-width="1.0"/><circle cx="94.75" cy="389.4" r="2.3" fill="none" stroke="#4a69aa" stroke-width="1.0"/><circle cx="91.9" cy="398.1" r="2.3" fill="none" stroke="#4a69aa" stroke-width="1.0"/><circle cx="96.9" cy="401.25" r="2.3" fill="none" stroke="#4a69aa" stroke-width="1.0"/><circle cx="94.4" cy="402.5" r="2.3" fill="none" stroke="#4a69aa" stroke-width="1.0"/><line x1="94.75" y1="381.3" x2="94.75" y2="401.9" stroke="#111" stroke-width="0.9"/><line x1="92.75" y1="381.3" x2="96.75" y2="381.3" stroke="#111" stroke-width="1.0"/><line x1="92.75" y1="401.9" x2="96.75" y2="401.9" stroke="#111" stroke-width="1.0"/><line x1="89.55" y1="391.9" x2="99.95" y2="391.9" stroke="#111" stroke-width="1.3"/><line x1="106.5" y1="421.2" x2="116.5" y2="421.2" stroke="#222" stroke-width="1.2"/><circle cx="111.4" cy="420.8" r="2.3" fill="none" stroke="#77c04b" stroke-width="0.8"/><circle cx="111.4" cy="420.8" r="0.6" fill="#77c04b"/><path d="M136.3 326.3V321.6H153.4V383.3" fill="none" stroke="#222" stroke-width="1"/><text x="127.7" y="316.3" font-size="7.6" textLength="34.5" lengthAdjust="spacingAndGlyphs">p=0.0022</text><circle cx="138.75" cy="340.25" r="2.3" fill="#a3001e"/><circle cx="134.0" cy="342.25" r="2.3" fill="#a3001e"/><circle cx="136.5" cy="343.5" r="2.3" fill="#a3001e"/><circle cx="136.5" cy="351.9" r="2.3" fill="#a3001e"/><circle cx="136.5" cy="364.4" r="2.3" fill="#a3001e"/><circle cx="136.5" cy="374.0" r="2.3" fill="#a3001e"/><line x1="136.5" y1="339.4" x2="136.5" y2="366.3" stroke="#111" stroke-width="0.9"/><line x1="134.3" y1="339.4" x2="138.7" y2="339.4" stroke="#111" stroke-width="1.0"/><line x1="134.3" y1="366.3" x2="138.7" y2="366.3" stroke="#111" stroke-width="1.0"/><line x1="131.1" y1="352.5" x2="141.9" y2="352.5" stroke="#111" stroke-width="1.3"/><circle cx="150.6" cy="397.5" r="2.3" fill="none" stroke="#4a69aa" stroke-width="1.0"/><circle cx="156.5" cy="403.75" r="2.3" fill="none" stroke="#4a69aa" stroke-width="1.0"/><circle cx="150.0" cy="413.75" r="2.3" fill="none" stroke="#4a69aa" stroke-width="1.0"/><circle cx="156.9" cy="413.1" r="2.3" fill="none" stroke="#4a69aa" stroke-width="1.0"/><circle cx="151.9" cy="416.9" r="2.3" fill="none" stroke="#4a69aa" stroke-width="1.0"/><circle cx="155.0" cy="415.0" r="2.3" fill="none" stroke="#4a69aa" stroke-width="1.0"/><circle cx="153.3" cy="417.5" r="2.3" fill="none" stroke="#4a69aa" stroke-width="1.0"/><line x1="153.5" y1="402.3" x2="153.5" y2="417.5" stroke="#111" stroke-width="0.9"/><line x1="151.3" y1="402.3" x2="155.7" y2="402.3" stroke="#111" stroke-width="1.0"/><line x1="151.3" y1="417.5" x2="155.7" y2="417.5" stroke="#111" stroke-width="1.0"/><line x1="148.3" y1="410.3" x2="158.7" y2="410.3" stroke="#111" stroke-width="1.3"/><line x1="165.5" y1="421.2" x2="175.5" y2="421.2" stroke="#222" stroke-width="1.2"/><circle cx="170.2" cy="421.3" r="2.3" fill="none" stroke="#77c04b" stroke-width="0.8"/><circle cx="170.2" cy="421.3" r="0.6" fill="#77c04b"/><path d="M195.4 378.0V373.2H212.75V396.0" fill="none" stroke="#222" stroke-width="1"/><text x="186.9" y="367.9" font-size="7.6" textLength="34.3" lengthAdjust="spacingAndGlyphs">p=0.0002</text><circle cx="192.1" cy="389.75" r="2.3" fill="#a3001e"/><circle cx="195.6" cy="392.5" r="2.3" fill="#a3001e"/><circle cx="199.4" cy="392.75" r="2.3" fill="#a3001e"/><circle cx="198.1" cy="395.6" r="2.3" fill="#a3001e"/><circle cx="194.4" cy="393.75" r="2.3" fill="#a3001e"/><circle cx="192.5" cy="402.75" r="2.3" fill="#a3001e"/><line x1="195.6" y1="390.6" x2="195.6" y2="397.9" stroke="#111" stroke-width="0.9"/><line x1="193.4" y1="390.6" x2="197.79999999999998" y2="390.6" stroke="#111" stroke-width="1.0"/><line x1="193.4" y1="397.9" x2="197.79999999999998" y2="397.9" stroke="#111" stroke-width="1.0"/><line x1="191.1" y1="394.4" x2="200.1" y2="394.4" stroke="#111" stroke-width="1.3"/><circle cx="209.4" cy="408.5" r="2.3" fill="none" stroke="#4a69aa" stroke-width="1.0"/><circle cx="215.25" cy="408.5" r="2.3" fill="none" stroke="#4a69aa" stroke-width="1.0"/><circle cx="209.0" cy="417.25" r="2.3" fill="none" stroke="#4a69aa" stroke-width="1.0"/><circle cx="215.6" cy="417.25" r="2.3" fill="none" stroke="#4a69aa" stroke-width="1.0"/><circle cx="211.9" cy="418.1" r="2.3" fill="none" stroke="#4a69aa" stroke-width="1.0"/><circle cx="213.5" cy="418.5" r="2.3" fill="none" stroke="#4a69aa" stroke-width="1.0"/><line x1="212.5" y1="411.5" x2="212.5" y2="420.0" stroke="#111" stroke-width="0.9"/><line x1="210.3" y1="411.5" x2="214.7" y2="411.5" stroke="#111" stroke-width="1.0"/><line x1="210.3" y1="420.0" x2="214.7" y2="420.0" stroke="#111" stroke-width="1.0"/><line x1="206.9" y1="415.6" x2="218.1" y2="415.6" stroke="#111" stroke-width="1.3"/><line x1="224.5" y1="421.2" x2="234.5" y2="421.2" stroke="#222" stroke-width="1.2"/><circle cx="229.4" cy="421.2" r="2.3" fill="none" stroke="#77c04b" stroke-width="0.8"/><circle cx="229.4" cy="421.2" r="0.6" fill="#77c04b"/><text x="88.4" y="432.1" font-size="9" textLength="11.2" lengthAdjust="spacingAndGlyphs">D7</text><text x="145.4" y="432.1" font-size="9" textLength="16.0" lengthAdjust="spacingAndGlyphs">D28</text><text x="204.3" y="432.1" font-size="9" textLength="16.0" lengthAdjust="spacingAndGlyphs">D84</text><text x="31.5" y="374.1" font-size="9.2" textLength="24" lengthAdjust="spacingAndGlyphs" font-weight="bold" transform="rotate(-90 31.5 374.1)">%GFP<tspan font-size="6.2" dy="-2.9">+</tspan></text><text x="44.0" y="399.0" font-size="10.2" textLength="74" lengthAdjust="spacingAndGlyphs" font-weight="bold" transform="rotate(-90 44.0 399.0)">total bone marrow cells</text><line x1="296.8" y1="302.1" x2="296.8" y2="422.1" stroke="#1a1a1a" stroke-width="1.6"/><line x1="293.7" y1="421.4" x2="471.5" y2="421.4" stroke="#000" stroke-width="1.3"/><line x1="293.6" y1="305.0" x2="296.8" y2="305.0" stroke="#111" stroke-width="1.0"/><text x="290.0" y="308.15" font-size="8.5" text-anchor="end">80</text><line x1="293.6" y1="334.5" x2="296.8" y2="334.5" stroke="#111" stroke-width="1.0"/><text x="290.0" y="337.29999999999995" font-size="8.5" text-anchor="end">65</text><line x1="293.6" y1="363.5" x2="296.8" y2="363.5" stroke="#111" stroke-width="1.0"/><text x="290.0" y="366.4" font-size="8.5" text-anchor="end">40</text><line x1="293.6" y1="392.5" x2="296.8" y2="392.5" stroke="#111" stroke-width="1.0"/><text x="290.0" y="395.4" font-size="8.5" text-anchor="end">20</text><text x="290.0" y="424.4" font-size="8.5" text-anchor="end">0</text><circle cx="308.5" cy="372.75" r="2.3" fill="#a3001e"/><circle cx="304.6" cy="382.5" r="2.3" fill="#a3001e"/><circle cx="308.5" cy="381.25" r="2.3" fill="#a3001e"/><circle cx="311.9" cy="383.1" r="2.3" fill="#a3001e"/><circle cx="306.9" cy="386.9" r="2.3" fill="#a3001e"/><circle cx="310.0" cy="388.5" r="2.3" fill="#a3001e"/><circle cx="305.6" cy="402.75" r="2.3" fill="#a3001e"/><circle cx="311.25" cy="401.0" r="2.3" fill="#a3001e"/><line x1="308.5" y1="383.8" x2="308.5" y2="390.6" stroke="#111" stroke-width="0.9"/><line x1="306.3" y1="383.8" x2="310.7" y2="383.8" stroke="#111" stroke-width="1.0"/><line x1="306.3" y1="390.6" x2="310.7" y2="390.6" stroke="#111" stroke-width="1.0"/><line x1="303.2" y1="387.3" x2="313.8" y2="387.3" stroke="#111" stroke-width="1.3"/><circle cx="322.5" cy="375.0" r="2.3" fill="none" stroke="#4a69aa" stroke-width="1.0"/><circle cx="328.1" cy="375.0" r="2.3" fill="none" stroke="#4a69aa" stroke-width="1.0"/><circle cx="324.75" cy="398.1" r="2.3" fill="none" stroke="#4a69aa" stroke-width="1.0"/><circle cx="322.9" cy="402.25" r="2.3" fill="none" stroke="#4a69aa" stroke-width="1.0"/><circle cx="326.9" cy="406.9" r="2.3" fill="none" stroke="#4a69aa" stroke-width="1.0"/><circle cx="325.0" cy="408.1" r="2.3" fill="none" stroke="#4a69aa" stroke-width="1.0"/><line x1="325.6" y1="387.5" x2="325.6" y2="400.6" stroke="#111" stroke-width="0.9"/><line x1="323.40000000000003" y1="387.5" x2="327.8" y2="387.5" stroke="#111" stroke-width="1.0"/><line x1="323.40000000000003" y1="400.6" x2="327.8" y2="400.6" stroke="#111" stroke-width="1.0"/><line x1="320.3" y1="394.1" x2="330.90000000000003" y2="394.1" stroke="#111" stroke-width="1.3"/><line x1="337.5" y1="421.2" x2="347" y2="421.2" stroke="#222" stroke-width="1.2"/><circle cx="342.1" cy="421.3" r="2.3" fill="none" stroke="#77c04b" stroke-width="0.8"/><circle cx="342.1" cy="421.3" r="0.6" fill="#77c04b"/><path d="M367.5 320.6V315.3H384.0V380.6" fill="none" stroke="#222" stroke-width="1"/><text x="358.5" y="310.3" font-size="7.6" textLength="34.6" lengthAdjust="spacingAndGlyphs">p=0.0022</text><circle cx="370.25" cy="334.75" r="2.3" fill="#a3001e"/><circle cx="364.6" cy="338.1" r="2.3" fill="#a3001e"/><circle cx="364.6" cy="351.9" r="2.3" fill="#a3001e"/><circle cx="370.25" cy="352.5" r="2.3" fill="#a3001e"/><circle cx="370.25" cy="382.75" r="2.3" fill="#a3001e"/><circle cx="364.4" cy="389.0" r="2.3" fill="#a3001e"/><line x1="367.3" y1="348.8" x2="367.3" y2="367.3" stroke="#111" stroke-width="0.9"/><line x1="364.5" y1="348.8" x2="370.1" y2="348.8" stroke="#111" stroke-width="1.0"/><line x1="364.5" y1="367.3" x2="370.1" y2="367.3" stroke="#111" stroke-width="1.0"/><line x1="362.0" y1="358.5" x2="372.6" y2="358.5" stroke="#111" stroke-width="1.3"/><circle cx="381.25" cy="394.4" r="2.3" fill="none" stroke="#4a69aa" stroke-width="1.0"/><circle cx="387.25" cy="399.0" r="2.3" fill="none" stroke="#4a69aa" stroke-width="1.0"/><circle cx="380.6" cy="411.0" r="2.3" fill="none" stroke="#4a69aa" stroke-width="1.0"/><circle cx="388.1" cy="410.6" r="2.3" fill="none" stroke="#4a69aa" stroke-width="1.0"/><circle cx="385.6" cy="413.75" r="2.3" fill="none" stroke="#4a69aa" stroke-width="1.0"/><circle cx="382.5" cy="416.9" r="2.3" fill="none" stroke="#4a69aa" stroke-width="1.0"/><circle cx="384.4" cy="410.6" r="2.3" fill="none" stroke="#4a69aa" stroke-width="1.0"/><line x1="384.6" y1="404.4" x2="384.6" y2="411.3" stroke="#111" stroke-width="0.9"/><line x1="382.40000000000003" y1="404.4" x2="386.8" y2="404.4" stroke="#111" stroke-width="1.0"/><line x1="382.40000000000003" y1="411.3" x2="386.8" y2="411.3" stroke="#111" stroke-width="1.0"/><line x1="379.20000000000005" y1="407.8" x2="390.0" y2="407.8" stroke="#111" stroke-width="1.3"/><line x1="396" y1="421.2" x2="406" y2="421.2" stroke="#222" stroke-width="1.2"/><circle cx="401.0" cy="421.3" r="2.3" fill="none" stroke="#77c04b" stroke-width="0.8"/><circle cx="401.0" cy="421.3" r="0.6" fill="#77c04b"/><path d="M426.3 357.0V352.3H443.1V397.5" fill="none" stroke="#222" stroke-width="1"/><text x="417.2" y="346.5" font-size="7.6" textLength="35" lengthAdjust="spacingAndGlyphs">p=0.0003</text><circle cx="424.0" cy="370.0" r="2.3" fill="#a3001e"/><circle cx="428.5" cy="372.25" r="2.3" fill="#a3001e"/><circle cx="426.25" cy="372.75" r="2.3" fill="#a3001e"/><circle cx="423.75" cy="380.25" r="2.3" fill="#a3001e"/><circle cx="427.5" cy="380.25" r="2.3" fill="#a3001e"/><circle cx="426.0" cy="380.6" r="2.3" fill="#a3001e"/><circle cx="423.1" cy="388.1" r="2.3" fill="#a3001e"/><circle cx="429.0" cy="388.1" r="2.3" fill="#a3001e"/><line x1="426.5" y1="376.6" x2="426.5" y2="381.3" stroke="#111" stroke-width="0.9"/><line x1="424.3" y1="376.6" x2="428.7" y2="376.6" stroke="#111" stroke-width="1.0"/><line x1="424.3" y1="381.3" x2="428.7" y2="381.3" stroke="#111" stroke-width="1.0"/><line x1="421.2" y1="379.4" x2="431.8" y2="379.4" stroke="#111" stroke-width="1.3"/><circle cx="440.25" cy="405.9" r="2.3" fill="none" stroke="#4a69aa" stroke-width="1.0"/><circle cx="446.25" cy="410.0" r="2.3" fill="none" stroke="#4a69aa" stroke-width="1.0"/><circle cx="440.6" cy="414.4" r="2.3" fill="none" stroke="#4a69aa" stroke-width="1.0"/><circle cx="445.6" cy="415.6" r="2.3" fill="none" stroke="#4a69aa" stroke-width="1.0"/><circle cx="441.9" cy="417.5" r="2.3" fill="none" stroke="#4a69aa" stroke-width="1.0"/><circle cx="444.4" cy="417.5" r="2.3" fill="none" stroke="#4a69aa" stroke-width="1.0"/><line x1="443.4" y1="412.0" x2="443.4" y2="416.0" stroke="#111" stroke-width="0.9"/><line x1="441.2" y1="412.0" x2="445.59999999999997" y2="412.0" stroke="#111" stroke-width="1.0"/><line x1="441.2" y1="416.0" x2="445.59999999999997" y2="416.0" stroke="#111" stroke-width="1.0"/><line x1="438.09999999999997" y1="414.0" x2="448.7" y2="414.0" stroke="#111" stroke-width="1.3"/><line x1="455" y1="421.2" x2="465" y2="421.2" stroke="#222" stroke-width="1.2"/><circle cx="460.0" cy="421.5" r="2.3" fill="none" stroke="#77c04b" stroke-width="0.8"/><circle cx="460.0" cy="421.5" r="0.6" fill="#77c04b"/><text x="319.2" y="432.1" font-size="9" textLength="11.0" lengthAdjust="spacingAndGlyphs">D7</text><text x="376.0" y="432.1" font-size="9" textLength="16.1" lengthAdjust="spacingAndGlyphs">D28</text><text x="435.3" y="432.0" font-size="9" textLength="15.8" lengthAdjust="spacingAndGlyphs">D84</text><text x="262.8" y="381.9" font-size="9.3" textLength="39.6" lengthAdjust="spacingAndGlyphs" font-weight="bold" transform="rotate(-90 262.8 381.9)">%GFP<tspan font-size="6.2" dy="-2.9">+</tspan><tspan dy="2.9">HSCs</tspan></text><text x="273.8" y="388.6" font-size="9.4" textLength="54.6" lengthAdjust="spacingAndGlyphs" font-weight="bold" transform="rotate(-90 273.8 388.6)">(Lin<tspan font-size="6.2" dy="-2.9">-</tspan><tspan dy="2.9">C-kit</tspan><tspan font-size="6.2" dy="-2.9">+</tspan><tspan dy="2.9">Sca1</tspan><tspan font-size="6.2" dy="-2.9">+</tspan><tspan dy="2.9">)</tspan></text><circle cx="459.3" cy="306.9" r="2.4" fill="#a3001e"/><circle cx="459.1" cy="319.1" r="2.5" fill="none" stroke="#4a69aa" stroke-width="1.0"/><circle cx="459.1" cy="331.1" r="2.5" fill="none" stroke="#77c04b" stroke-width="0.8"/><circle cx="459.1" cy="331.1" r="0.7" fill="#77c04b"/><text x="464.6" y="309.2" font-size="8.6" textLength="18.4" lengthAdjust="spacingAndGlyphs">Rag2</text><text x="484.0" y="305.6" font-size="5.2" textLength="5.0" lengthAdjust="spacingAndGlyphs">-/-</text><text x="464.6" y="321.4" font-size="8.6" textLength="14.2" lengthAdjust="spacingAndGlyphs">BL6</text><text x="464.6" y="333.9" font-size="8.6" textLength="34.3" lengthAdjust="spacingAndGlyphs">Untreated</text><rect x="0.5" y="0.5" width="518.8" height="440.5" fill="none" stroke="#000" stroke-width="1"/><rect x="518.7" y="0" width="1.3" height="442" fill="#000"/><rect x="0" y="440.5" width="520" height="1.5" fill="#000"/></svg></body></html>
